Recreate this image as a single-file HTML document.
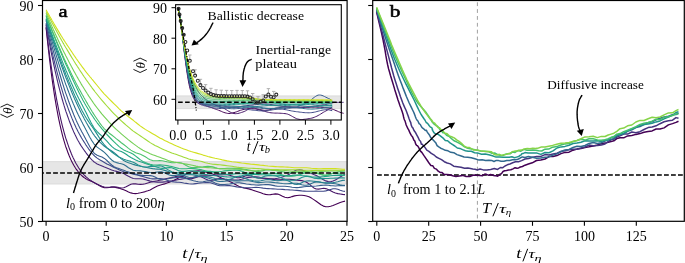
<!DOCTYPE html><html><head><meta charset="utf-8"><style>html,body{margin:0;padding:0;background:#fff;width:685px;height:263px;overflow:hidden;}svg{display:block;will-change:transform;}text{font-family:"Liberation Serif",serif;}</style></head><body>
<svg width="685" height="263" viewBox="0 0 685 263">
<rect x="42.5" y="161.6" width="304.6" height="22.4" fill="#e6e6e6"/>
<path d="M42.5,161.6H347M42.5,184.0H347" stroke="#d6d6d6" stroke-width="0.8"/>
<g fill="none" stroke-width="1.1" stroke-linejoin="round">
<path d="M46.1,27.6 46.7,33.5 47.3,39.3 47.9,44.8 48.5,50.2 49.1,55.4 49.7,60.4 50.3,65.3 50.9,70.1 51.5,74.6 52.1,79.1 52.7,83.3 53.3,87.5 53.9,91.5 54.5,95.3 55.1,99.1 55.7,102.6 56.3,106.1 56.9,109.5 57.5,112.7 58.1,115.8 58.7,118.8 59.3,121.7 59.9,124.5 60.5,127.1 61.1,129.7 61.7,132.2 62.3,134.6 62.9,136.9 63.5,139.1 64.1,141.2 64.7,143.2 65.3,145.2 65.9,147.0 66.6,148.8 67.2,150.5 67.8,152.2 68.4,153.8 69.0,155.3 69.6,156.7 70.2,158.1 70.8,159.5 71.4,160.7 72.0,161.9 72.6,163.1 73.2,164.2 73.8,165.3 74.4,166.3 75.0,167.3 75.6,168.2 76.2,169.1 76.8,169.9 77.4,170.7 78.0,171.5 78.6,172.2 79.2,172.9 79.8,173.6 80.4,174.2 81.0,174.9 81.6,175.4 82.2,176.0 82.8,176.5 83.4,177.0 84.0,177.5 84.6,177.9 85.2,178.3 85.8,178.7 86.4,179.0 87.0,179.4 87.6,179.7 88.2,180.0 88.8,180.3 89.4,180.5 90.0,180.8 90.6,181.0 91.2,181.3 91.8,181.6 92.4,181.8 93.0,182.1 93.6,182.4 94.2,182.6 94.8,182.9 97.2,184.3 99.6,185.8 102.0,187.0 104.4,187.7 106.9,187.8 109.3,187.5 111.7,187.2 114.1,187.3 116.5,187.6 118.9,188.1 121.3,188.9 123.7,189.7 126.1,190.8 128.5,191.9 130.9,192.9 133.3,193.5 135.7,193.6 138.1,193.3 140.5,192.8 142.9,192.2 145.3,191.6 147.8,190.8 150.2,189.9 152.6,188.6 155.0,187.2 157.4,186.0 159.8,185.2 162.2,184.5 164.6,183.9 167.0,183.1 169.4,182.2 171.8,181.3 174.2,180.2 176.6,178.9 179.0,177.7 181.4,176.5 183.8,175.4 186.2,174.1 188.7,172.8 191.1,171.8 193.5,171.2 195.9,171.0 198.3,170.9 200.7,171.0 203.1,171.4 205.5,171.9 207.9,172.6 210.3,173.3 212.7,174.1 215.1,175.1 217.5,176.1 219.9,177.3 222.3,178.4 224.7,179.5 227.2,180.6 229.6,181.6 232.0,182.6 234.4,184.0 236.8,185.3 239.2,186.4 241.6,187.3 244.0,188.0 246.4,188.4 248.8,188.9 251.2,189.6 253.6,190.4 256.0,191.2 258.4,192.0 260.8,192.8 263.2,193.7 265.6,194.4 268.1,194.7 270.5,194.6 272.9,194.2 275.3,193.9 277.7,194.1 280.1,195.0 282.5,196.2 284.9,197.3 287.3,197.7 289.7,197.4 292.1,196.6 294.5,195.9 296.9,195.5 299.3,195.3 301.7,195.3 304.1,195.5 306.5,196.0 309.0,196.8 311.4,198.1 313.8,199.6 316.2,201.2 318.6,203.0 321.0,204.8 323.4,206.1 325.8,206.8 328.2,206.7 330.6,206.2 333.0,205.4 335.4,204.5 337.8,203.5 340.2,202.5 342.6,201.7 345.0,201.1" stroke="#440154"/>
<path d="M46.1,26.6 46.7,31.7 47.3,36.7 47.9,41.6 48.5,46.3 49.1,51.0 49.7,55.5 50.3,59.9 50.9,64.1 51.5,68.3 52.1,72.3 52.7,76.2 53.3,80.0 53.9,83.8 54.5,87.4 55.1,90.9 55.7,94.3 56.3,97.6 56.9,100.8 57.5,103.9 58.1,106.9 58.7,109.8 59.3,112.6 59.9,115.4 60.5,118.0 61.1,120.6 61.7,123.1 62.3,125.6 62.9,127.9 63.5,130.2 64.1,132.4 64.7,134.5 65.3,136.6 65.9,138.6 66.6,140.5 67.2,142.4 67.8,144.2 68.4,145.9 69.0,147.6 69.6,149.2 70.2,150.8 70.8,152.3 71.4,153.8 72.0,155.2 72.6,156.5 73.2,157.9 73.8,159.1 74.4,160.3 75.0,161.5 75.6,162.7 76.2,163.8 76.8,164.8 77.4,165.8 78.0,166.8 78.6,167.8 79.2,168.7 79.8,169.5 80.4,170.4 81.0,171.2 81.6,172.0 82.2,172.7 82.8,173.4 83.4,174.1 84.0,174.8 84.6,175.4 85.2,176.0 85.8,176.6 86.4,177.2 87.0,177.7 87.6,178.2 88.2,178.7 88.8,179.2 89.4,179.6 90.0,180.0 90.6,180.4 91.2,180.8 91.8,181.2 92.4,181.6 93.0,181.9 93.6,182.3 94.2,182.6 94.8,183.0 97.2,184.2 99.6,185.3 102.0,186.3 104.4,187.0 106.9,187.3 109.3,187.2 111.7,186.9 114.1,186.8 116.5,187.0 118.9,187.6 121.3,188.0 123.7,187.8 126.1,186.8 128.5,185.4 130.9,184.3 133.3,183.8 135.7,183.9 138.1,184.2 140.5,184.4 142.9,184.2 145.3,183.7 147.8,183.0 150.2,182.3 152.6,181.6 155.0,181.2 157.4,180.8 159.8,180.3 162.2,179.7 164.6,179.1 167.0,178.5 169.4,178.0 171.8,177.6 174.2,177.0 176.6,176.4 179.0,176.0 181.4,176.2 183.8,176.9 186.2,177.9 188.7,178.7 191.1,178.9 193.5,178.3 195.9,177.4 198.3,176.5 200.7,175.9 203.1,175.7 205.5,175.7 207.9,175.8 210.3,175.6 212.7,175.4 215.1,175.1 217.5,174.9 219.9,174.7 222.3,174.7 224.7,174.7 227.2,174.8 229.6,175.2 232.0,176.0 234.4,176.8 236.8,177.6 239.2,177.8 241.6,177.3 244.0,176.4 246.4,175.6 248.8,175.4 251.2,175.8 253.6,176.7 256.0,177.5 258.4,178.0 260.8,178.2 263.2,178.3 265.6,178.4 268.1,178.6 270.5,179.0 272.9,179.4 275.3,179.8 277.7,179.9 280.1,179.8 282.5,179.5 284.9,179.2 287.3,179.2 289.7,179.3 292.1,179.6 294.5,179.9 296.9,180.2 299.3,180.4 301.7,180.6 304.1,181.2 306.5,182.2 309.0,183.9 311.4,186.0 313.8,187.9 316.2,189.0 318.6,189.1 321.0,188.7 323.4,188.3 325.8,188.6 328.2,189.4 330.6,190.7 333.0,192.0 335.4,193.0 337.8,193.6 340.2,194.0 342.6,194.4 345.0,194.6" stroke="#471668"/>
<path d="M46.1,24.9 46.7,28.3 47.3,31.7 47.9,35.0 48.5,38.2 49.1,41.4 49.7,44.6 50.3,47.7 50.9,50.7 51.5,53.8 52.1,56.7 52.7,59.6 53.3,62.5 53.9,65.3 54.5,68.0 55.1,70.8 55.7,73.4 56.3,76.0 56.9,78.6 57.5,81.1 58.1,83.6 58.7,86.0 59.3,88.4 59.9,90.7 60.5,93.0 61.1,95.2 61.7,97.4 62.3,99.5 62.9,101.6 63.5,103.6 64.1,105.7 64.7,107.6 65.3,109.5 65.9,111.4 66.6,113.2 67.2,115.0 67.8,116.7 68.4,118.4 69.0,120.1 69.6,121.7 70.2,123.3 70.8,124.8 71.4,126.3 72.0,127.8 72.6,129.2 73.2,130.6 73.8,132.0 74.4,133.3 75.0,134.6 75.6,135.8 76.2,137.0 76.8,138.2 77.4,139.4 78.0,140.5 78.6,141.5 79.2,142.6 79.8,143.6 80.4,144.6 81.0,145.6 81.6,146.5 82.2,147.4 82.8,148.3 83.4,149.2 84.0,150.0 84.6,150.9 85.2,151.7 85.8,152.5 86.4,153.3 87.0,154.1 87.6,154.9 88.2,155.7 88.8,156.4 89.4,157.1 90.0,157.8 90.6,158.5 91.2,159.2 91.8,159.8 92.4,160.4 93.0,160.9 93.6,161.5 94.2,162.0 94.8,162.4 97.2,164.0 99.6,165.1 102.0,166.1 104.4,167.1 106.9,168.0 109.3,168.9 111.7,169.9 114.1,170.7 116.5,171.4 118.9,172.1 121.3,172.8 123.7,173.6 126.1,174.9 128.5,176.3 130.9,177.6 133.3,178.5 135.7,178.8 138.1,178.8 140.5,178.8 142.9,179.0 145.3,179.6 147.8,180.4 150.2,181.1 152.6,181.6 155.0,181.9 157.4,182.1 159.8,182.1 162.2,182.1 164.6,181.9 167.0,181.7 169.4,181.3 171.8,180.9 174.2,180.4 176.6,180.0 179.0,179.5 181.4,179.1 183.8,178.7 186.2,178.5 188.7,178.2 191.1,177.9 193.5,177.4 195.9,176.9 198.3,176.6 200.7,176.8 203.1,177.7 205.5,178.9 207.9,180.0 210.3,180.5 212.7,180.3 215.1,179.6 217.5,178.9 219.9,178.6 222.3,178.7 224.7,179.1 227.2,179.4 229.6,179.6 232.0,179.8 234.4,180.0 236.8,180.0 239.2,179.8 241.6,179.3 244.0,178.6 246.4,177.9 248.8,177.4 251.2,177.1 253.6,176.9 256.0,176.9 258.4,177.0 260.8,177.5 263.2,178.1 265.6,178.6 268.1,178.9 270.5,178.9 272.9,178.8 275.3,178.6 277.7,178.2 280.1,177.7 282.5,176.9 284.9,176.1 287.3,175.2 289.7,173.9 292.1,172.3 294.5,170.9 296.9,170.0 299.3,169.8 301.7,170.1 304.1,170.8 306.5,171.6 309.0,172.4 311.4,173.4 313.8,174.5 316.2,175.5 318.6,176.7 321.0,178.2 323.4,179.7 325.8,180.9 328.2,181.6 330.6,181.7 333.0,181.0 335.4,179.9 337.8,178.5 340.2,177.0 342.6,175.6 345.0,174.2" stroke="#472878"/>
<path d="M46.1,23.9 46.7,26.8 47.3,29.7 47.9,32.6 48.5,35.5 49.1,38.3 49.7,41.1 50.3,43.8 50.9,46.5 51.5,49.2 52.1,51.8 52.7,54.4 53.3,57.0 53.9,59.5 54.5,62.0 55.1,64.5 55.7,66.9 56.3,69.2 56.9,71.6 57.5,73.9 58.1,76.1 58.7,78.3 59.3,80.5 59.9,82.7 60.5,84.8 61.1,86.9 61.7,88.9 62.3,90.9 62.9,92.9 63.5,94.8 64.1,96.7 64.7,98.6 65.3,100.4 65.9,102.2 66.6,104.0 67.2,105.7 67.8,107.4 68.4,109.1 69.0,110.7 69.6,112.3 70.2,113.9 70.8,115.4 71.4,116.9 72.0,118.4 72.6,119.8 73.2,121.2 73.8,122.6 74.4,124.0 75.0,125.3 75.6,126.6 76.2,127.9 76.8,129.1 77.4,130.3 78.0,131.5 78.6,132.6 79.2,133.7 79.8,134.8 80.4,135.9 81.0,136.9 81.6,138.0 82.2,139.0 82.8,140.0 83.4,140.9 84.0,141.9 84.6,142.8 85.2,143.7 85.8,144.7 86.4,145.6 87.0,146.5 87.6,147.3 88.2,148.2 88.8,149.1 89.4,149.9 90.0,150.7 90.6,151.5 91.2,152.2 91.8,153.0 92.4,153.7 93.0,154.4 93.6,155.0 94.2,155.6 94.8,156.2 97.2,158.1 99.6,159.7 102.0,161.1 104.4,162.5 106.9,163.9 109.3,165.1 111.7,166.3 114.1,167.4 116.5,168.6 118.9,169.7 121.3,170.8 123.7,171.8 126.1,172.5 128.5,173.0 130.9,173.5 133.3,174.1 135.7,174.7 138.1,175.3 140.5,175.9 142.9,176.5 145.3,177.2 147.8,177.9 150.2,178.5 152.6,178.9 155.0,178.9 157.4,178.6 159.8,178.5 162.2,178.7 164.6,179.3 167.0,180.2 169.4,181.0 171.8,181.6 174.2,181.9 176.6,182.1 179.0,182.2 181.4,182.5 183.8,183.0 186.2,183.4 188.7,183.8 191.1,184.0 193.5,183.9 195.9,183.6 198.3,183.3 200.7,183.0 203.1,182.8 205.5,182.6 207.9,182.5 210.3,182.7 212.7,183.4 215.1,184.3 217.5,185.2 219.9,185.7 222.3,185.8 224.7,185.7 227.2,185.5 229.6,185.6 232.0,186.0 234.4,186.4 236.8,186.9 239.2,187.2 241.6,187.4 244.0,187.6 246.4,187.7 248.8,187.7 251.2,187.7 253.6,187.5 256.0,187.4 258.4,187.5 260.8,187.7 263.2,188.1 265.6,188.4 268.1,188.6 270.5,188.8 272.9,188.9 275.3,189.0 277.7,189.2 280.1,189.3 282.5,189.4 284.9,189.6 287.3,189.7 289.7,189.9 292.1,190.0 294.5,190.2 296.9,190.4 299.3,190.6 301.7,190.9 304.1,191.1 306.5,191.3 309.0,191.3 311.4,191.3 313.8,191.2 316.2,191.1 318.6,191.2 321.0,191.2 323.4,191.2 325.8,190.9 328.2,190.3 330.6,189.5 333.0,188.8 335.4,188.7 337.8,189.3 340.2,190.2 342.6,191.0 345.0,191.4" stroke="#3f4888"/>
<path d="M46.1,22.8 46.7,25.2 47.3,27.6 47.9,30.0 48.5,32.3 49.1,34.7 49.7,37.0 50.3,39.4 50.9,41.7 51.5,44.0 52.1,46.3 52.7,48.6 53.3,50.8 53.9,53.1 54.5,55.3 55.1,57.5 55.7,59.7 56.3,61.9 56.9,64.0 57.5,66.1 58.1,68.3 58.7,70.3 59.3,72.4 59.9,74.5 60.5,76.5 61.1,78.5 61.7,80.5 62.3,82.4 62.9,84.3 63.5,86.2 64.1,88.1 64.7,90.0 65.3,91.8 65.9,93.6 66.6,95.4 67.2,97.1 67.8,98.9 68.4,100.6 69.0,102.3 69.6,103.9 70.2,105.5 70.8,107.1 71.4,108.7 72.0,110.3 72.6,111.8 73.2,113.3 73.8,114.8 74.4,116.2 75.0,117.6 75.6,119.0 76.2,120.4 76.8,121.7 77.4,123.0 78.0,124.2 78.6,125.5 79.2,126.7 79.8,127.9 80.4,129.1 81.0,130.2 81.6,131.4 82.2,132.5 82.8,133.6 83.4,134.7 84.0,135.8 84.6,136.9 85.2,138.0 85.8,139.2 86.4,140.3 87.0,141.4 87.6,142.6 88.2,143.7 88.8,144.8 89.4,145.9 90.0,147.0 90.6,148.0 91.2,149.0 91.8,149.9 92.4,150.8 93.0,151.6 93.6,152.4 94.2,153.1 94.8,153.7 97.2,155.3 99.6,156.2 102.0,157.1 104.4,158.4 106.9,160.5 109.3,162.9 111.7,165.0 114.1,166.7 116.5,167.8 118.9,168.6 121.3,169.4 123.7,170.3 126.1,171.2 128.5,172.0 130.9,172.8 133.3,173.5 135.7,174.1 138.1,174.7 140.5,175.1 142.9,175.4 145.3,175.5 147.8,175.5 150.2,175.6 152.6,176.0 155.0,177.0 157.4,178.2 159.8,179.2 162.2,179.7 164.6,179.5 167.0,179.0 169.4,178.4 171.8,178.0 174.2,177.7 176.6,177.4 179.0,177.3 181.4,177.4 183.8,177.9 186.2,178.6 188.7,179.4 191.1,180.0 193.5,180.7 195.9,181.3 198.3,181.8 200.7,182.0 203.1,181.7 205.5,181.2 207.9,180.8 210.3,180.9 212.7,181.7 215.1,182.9 217.5,183.9 219.9,184.5 222.3,184.6 224.7,184.5 227.2,184.2 229.6,184.0 232.0,183.6 234.4,183.2 236.8,182.8 239.2,182.8 241.6,183.1 244.0,183.5 246.4,184.0 248.8,184.3 251.2,184.6 253.6,184.8 256.0,185.0 258.4,185.1 260.8,184.9 263.2,184.7 265.6,184.5 268.1,184.6 270.5,184.9 272.9,185.4 275.3,185.9 277.7,186.2 280.1,186.3 282.5,186.3 284.9,186.3 287.3,186.5 289.7,186.8 292.1,187.2 294.5,187.5 296.9,187.6 299.3,187.4 301.7,187.1 304.1,186.8 306.5,186.5 309.0,186.4 311.4,186.3 313.8,186.2 316.2,186.0 318.6,185.7 321.0,185.4 323.4,185.2 325.8,185.1 328.2,185.3 330.6,185.6 333.0,185.8 335.4,186.0 337.8,185.8 340.2,185.6 342.6,185.5 345.0,185.6" stroke="#375b8c"/>
<path d="M46.1,20.6 46.7,22.8 47.3,24.9 47.9,27.0 48.5,29.1 49.1,31.2 49.7,33.3 50.3,35.4 50.9,37.5 51.5,39.5 52.1,41.6 52.7,43.6 53.3,45.7 53.9,47.7 54.5,49.7 55.1,51.7 55.7,53.6 56.3,55.6 56.9,57.6 57.5,59.5 58.1,61.4 58.7,63.3 59.3,65.2 59.9,67.1 60.5,68.9 61.1,70.7 61.7,72.6 62.3,74.4 62.9,76.1 63.5,77.9 64.1,79.6 64.7,81.4 65.3,83.1 65.9,84.8 66.6,86.4 67.2,88.1 67.8,89.7 68.4,91.3 69.0,92.9 69.6,94.5 70.2,96.0 70.8,97.6 71.4,99.1 72.0,100.6 72.6,102.0 73.2,103.5 73.8,104.9 74.4,106.3 75.0,107.7 75.6,109.1 76.2,110.4 76.8,111.7 77.4,113.0 78.0,114.3 78.6,115.5 79.2,116.7 79.8,117.9 80.4,119.1 81.0,120.3 81.6,121.5 82.2,122.6 82.8,123.8 83.4,124.9 84.0,126.0 84.6,127.2 85.2,128.3 85.8,129.5 86.4,130.6 87.0,131.8 87.6,132.9 88.2,134.1 88.8,135.2 89.4,136.4 90.0,137.5 90.6,138.5 91.2,139.6 91.8,140.6 92.4,141.5 93.0,142.4 93.6,143.3 94.2,144.1 94.8,144.8 97.2,147.1 99.6,148.9 102.0,150.5 104.4,152.4 106.9,154.9 109.3,157.6 111.7,160.0 114.1,161.7 116.5,162.6 118.9,163.2 121.3,163.7 123.7,164.6 126.1,166.0 128.5,167.7 130.9,169.1 133.3,170.2 135.7,170.6 138.1,170.8 140.5,170.9 142.9,171.2 145.3,171.6 147.8,172.1 150.2,172.5 152.6,172.7 155.0,172.4 157.4,172.0 159.8,171.7 162.2,171.9 164.6,172.8 167.0,173.9 169.4,175.0 171.8,175.6 174.2,175.6 176.6,175.3 179.0,175.1 181.4,175.2 183.8,175.8 186.2,176.6 188.7,177.2 191.1,177.5 193.5,177.3 195.9,176.8 198.3,176.3 200.7,176.3 203.1,176.7 205.5,177.3 207.9,178.0 210.3,178.7 212.7,179.5 215.1,180.4 217.5,181.1 219.9,181.5 222.3,181.5 224.7,181.3 227.2,181.0 229.6,180.8 232.0,180.8 234.4,180.9 236.8,180.9 239.2,180.9 241.6,180.8 244.0,180.7 246.4,180.7 248.8,180.8 251.2,181.2 253.6,181.8 256.0,182.3 258.4,182.6 260.8,182.5 263.2,182.2 265.6,182.0 268.1,182.0 270.5,182.1 272.9,182.4 275.3,182.7 277.7,182.9 280.1,183.2 282.5,183.5 284.9,183.7 287.3,183.8 289.7,183.6 292.1,183.4 294.5,183.2 296.9,183.3 299.3,183.9 301.7,184.7 304.1,185.3 306.5,185.3 309.0,184.6 311.4,183.5 313.8,182.5 316.2,181.9 318.6,182.0 321.0,182.3 323.4,182.8 325.8,183.1 328.2,183.2 330.6,183.3 333.0,183.5 335.4,183.8 337.8,184.3 340.2,184.9 342.6,185.3 345.0,185.3" stroke="#2e6e8e"/>
<path d="M46.1,20.1 46.7,21.9 47.3,23.7 47.9,25.6 48.5,27.4 49.1,29.2 49.7,31.1 50.3,32.9 50.9,34.7 51.5,36.5 52.1,38.3 52.7,40.1 53.3,41.9 53.9,43.7 54.5,45.5 55.1,47.3 55.7,49.1 56.3,50.8 56.9,52.6 57.5,54.3 58.1,56.1 58.7,57.8 59.3,59.5 59.9,61.2 60.5,62.9 61.1,64.6 61.7,66.3 62.3,67.9 62.9,69.6 63.5,71.2 64.1,72.9 64.7,74.5 65.3,76.1 65.9,77.7 66.6,79.2 67.2,80.8 67.8,82.3 68.4,83.9 69.0,85.4 69.6,86.9 70.2,88.4 70.8,89.9 71.4,91.3 72.0,92.8 72.6,94.2 73.2,95.6 73.8,97.0 74.4,98.4 75.0,99.7 75.6,101.1 76.2,102.4 76.8,103.7 77.4,105.0 78.0,106.3 78.6,107.6 79.2,108.8 79.8,110.1 80.4,111.3 81.0,112.5 81.6,113.7 82.2,114.8 82.8,116.0 83.4,117.1 84.0,118.3 84.6,119.4 85.2,120.5 85.8,121.6 86.4,122.7 87.0,123.7 87.6,124.8 88.2,125.9 88.8,126.9 89.4,127.9 90.0,128.9 90.6,129.9 91.2,130.8 91.8,131.8 92.4,132.7 93.0,133.6 93.6,134.4 94.2,135.3 94.8,136.1 97.2,139.1 99.6,141.8 102.0,144.1 104.4,146.3 106.9,148.0 109.3,149.5 111.7,151.0 114.1,152.7 116.5,154.7 118.9,156.9 121.3,158.9 123.7,160.6 126.1,161.8 128.5,162.8 130.9,163.6 133.3,164.4 135.7,165.1 138.1,165.7 140.5,166.2 142.9,166.7 145.3,167.2 147.8,167.7 150.2,168.2 152.6,168.6 155.0,168.9 157.4,169.1 159.8,169.3 162.2,169.7 164.6,170.4 167.0,171.1 169.4,171.9 171.8,172.5 174.2,173.2 176.6,173.8 179.0,174.4 181.4,174.7 183.8,174.8 186.2,174.7 188.7,174.7 191.1,174.8 193.5,175.0 195.9,175.4 198.3,175.8 200.7,176.1 203.1,176.4 205.5,176.6 207.9,176.8 210.3,177.2 212.7,177.8 215.1,178.5 217.5,179.0 219.9,179.4 222.3,179.7 224.7,179.8 227.2,179.8 229.6,179.4 232.0,178.6 234.4,177.5 236.8,176.6 239.2,176.3 241.6,176.9 244.0,177.9 246.4,178.9 248.8,179.7 251.2,180.2 253.6,180.7 256.0,181.1 258.4,181.1 260.8,180.8 263.2,180.3 265.6,179.8 268.1,179.6 270.5,179.8 272.9,180.2 275.3,180.5 277.7,180.7 280.1,180.5 282.5,180.3 284.9,180.1 287.3,180.5 289.7,181.6 292.1,183.0 294.5,184.2 296.9,184.5 299.3,183.9 301.7,182.7 304.1,181.6 306.5,181.0 309.0,180.9 311.4,181.0 313.8,181.3 316.2,181.6 318.6,181.9 321.0,182.4 323.4,182.7 325.8,182.9 328.2,182.9 330.6,182.8 333.0,182.6 335.4,182.3 337.8,181.7 340.2,181.0 342.6,180.4 345.0,180.2" stroke="#277f8e"/>
<path d="M46.1,19.0 46.7,20.8 47.3,22.5 47.9,24.3 48.5,26.0 49.1,27.8 49.7,29.5 50.3,31.3 50.9,33.0 51.5,34.7 52.1,36.5 52.7,38.2 53.3,39.9 53.9,41.7 54.5,43.4 55.1,45.1 55.7,46.8 56.3,48.5 56.9,50.2 57.5,51.8 58.1,53.5 58.7,55.2 59.3,56.8 59.9,58.5 60.5,60.1 61.1,61.7 61.7,63.3 62.3,65.0 62.9,66.5 63.5,68.1 64.1,69.7 64.7,71.3 65.3,72.8 65.9,74.4 66.6,75.9 67.2,77.4 67.8,78.9 68.4,80.4 69.0,81.9 69.6,83.3 70.2,84.8 70.8,86.2 71.4,87.6 72.0,89.1 72.6,90.4 73.2,91.8 73.8,93.2 74.4,94.5 75.0,95.9 75.6,97.2 76.2,98.5 76.8,99.8 77.4,101.1 78.0,102.4 78.6,103.7 79.2,104.9 79.8,106.1 80.4,107.4 81.0,108.6 81.6,109.7 82.2,110.9 82.8,112.0 83.4,113.1 84.0,114.2 84.6,115.3 85.2,116.3 85.8,117.3 86.4,118.3 87.0,119.2 87.6,120.1 88.2,121.0 88.8,121.9 89.4,122.8 90.0,123.6 90.6,124.5 91.2,125.3 91.8,126.2 92.4,127.0 93.0,127.9 93.6,128.8 94.2,129.6 94.8,130.6 97.2,134.4 99.6,138.3 102.0,141.9 104.4,145.0 106.9,147.6 109.3,149.9 111.7,152.0 114.1,153.8 116.5,155.5 118.9,156.9 121.3,158.1 123.7,159.2 126.1,160.0 128.5,160.7 130.9,161.4 133.3,162.2 135.7,163.5 138.1,164.9 140.5,166.1 142.9,166.7 145.3,167.0 147.8,166.9 150.2,166.6 152.6,166.5 155.0,166.2 157.4,165.9 159.8,165.8 162.2,166.3 164.6,167.5 167.0,169.1 169.4,170.6 171.8,171.7 174.2,172.3 176.6,172.6 179.0,172.8 181.4,173.1 183.8,173.5 186.2,173.8 188.7,174.0 191.1,174.1 193.5,174.1 195.9,174.0 198.3,174.0 200.7,174.1 203.1,174.2 205.5,174.5 207.9,174.8 210.3,175.0 212.7,175.3 215.1,175.6 217.5,175.8 219.9,176.1 222.3,176.4 224.7,176.7 227.2,176.9 229.6,177.0 232.0,176.9 234.4,176.8 236.8,176.6 239.2,176.3 241.6,175.8 244.0,175.2 246.4,174.8 248.8,174.9 251.2,175.7 253.6,176.8 256.0,177.8 258.4,178.1 260.8,177.7 263.2,176.8 265.6,176.0 268.1,175.6 270.5,175.6 272.9,175.7 275.3,175.9 277.7,176.4 280.1,177.3 282.5,178.4 284.9,179.3 287.3,179.9 289.7,180.2 292.1,180.3 294.5,180.1 296.9,179.7 299.3,178.8 301.7,177.6 304.1,176.7 306.5,176.3 309.0,176.6 311.4,177.3 313.8,178.1 316.2,178.5 318.6,178.6 321.0,178.6 323.4,178.6 325.8,178.5 328.2,178.5 330.6,178.3 333.0,178.2 335.4,178.1 337.8,178.0 340.2,177.9 342.6,177.9 345.0,178.0" stroke="#21918c"/>
<path d="M46.1,18.5 46.7,20.1 47.3,21.7 47.9,23.4 48.5,25.0 49.1,26.6 49.7,28.2 50.3,29.9 50.9,31.5 51.5,33.1 52.1,34.7 52.7,36.3 53.3,37.9 53.9,39.6 54.5,41.1 55.1,42.7 55.7,44.3 56.3,45.9 56.9,47.5 57.5,49.1 58.1,50.6 58.7,52.2 59.3,53.7 59.9,55.3 60.5,56.8 61.1,58.3 61.7,59.9 62.3,61.4 62.9,62.9 63.5,64.4 64.1,65.9 64.7,67.3 65.3,68.8 65.9,70.3 66.6,71.7 67.2,73.1 67.8,74.6 68.4,76.0 69.0,77.4 69.6,78.8 70.2,80.2 70.8,81.5 71.4,82.9 72.0,84.2 72.6,85.6 73.2,86.9 73.8,88.2 74.4,89.5 75.0,90.8 75.6,92.1 76.2,93.3 76.8,94.6 77.4,95.8 78.0,97.0 78.6,98.2 79.2,99.3 79.8,100.5 80.4,101.6 81.0,102.8 81.6,104.0 82.2,105.1 82.8,106.2 83.4,107.4 84.0,108.5 84.6,109.7 85.2,110.9 85.8,112.1 86.4,113.3 87.0,114.5 87.6,115.7 88.2,117.0 88.8,118.2 89.4,119.4 90.0,120.6 90.6,121.8 91.2,122.9 91.8,124.0 92.4,125.1 93.0,126.1 93.6,127.1 94.2,128.0 94.8,128.8 97.2,131.7 99.6,134.0 102.0,136.2 104.4,138.6 106.9,141.2 109.3,143.9 111.7,146.4 114.1,148.4 116.5,149.7 118.9,150.7 121.3,151.6 123.7,152.8 126.1,154.3 128.5,156.0 130.9,157.5 133.3,158.8 135.7,159.9 138.1,160.9 140.5,161.8 142.9,162.6 145.3,163.5 147.8,164.3 150.2,165.1 152.6,165.8 155.0,166.5 157.4,167.3 159.8,168.0 162.2,168.4 164.6,168.2 167.0,167.9 169.4,167.6 171.8,167.8 174.2,168.7 176.6,169.8 179.0,170.9 181.4,171.4 183.8,171.4 186.2,171.1 188.7,170.9 191.1,170.8 193.5,171.1 195.9,171.4 198.3,171.8 200.7,171.9 203.1,171.7 205.5,171.5 207.9,171.3 210.3,171.4 212.7,171.9 215.1,172.5 217.5,173.2 219.9,173.6 222.3,174.0 224.7,174.2 227.2,174.4 229.6,174.4 232.0,174.2 234.4,173.9 236.8,173.7 239.2,173.6 241.6,173.7 244.0,173.9 246.4,174.1 248.8,174.3 251.2,174.4 253.6,174.4 256.0,174.5 258.4,174.6 260.8,174.7 263.2,174.8 265.6,174.9 268.1,175.0 270.5,175.1 272.9,175.2 275.3,175.2 277.7,175.3 280.1,175.5 282.5,175.6 284.9,175.8 287.3,175.8 289.7,175.6 292.1,175.4 294.5,175.1 296.9,175.1 299.3,175.2 301.7,175.5 304.1,175.7 306.5,176.0 309.0,176.3 311.4,176.7 313.8,177.0 316.2,177.1 318.6,177.1 321.0,176.9 323.4,176.7 325.8,176.4 328.2,176.1 330.6,175.8 333.0,175.5 335.4,175.3 337.8,175.4 340.2,175.5 342.6,175.5 345.0,175.3" stroke="#20a187"/>
<path d="M46.1,16.3 46.7,17.8 47.3,19.2 47.9,20.7 48.5,22.2 49.1,23.7 49.7,25.2 50.3,26.6 50.9,28.1 51.5,29.6 52.1,31.1 52.7,32.6 53.3,34.1 53.9,35.5 54.5,37.0 55.1,38.5 55.7,40.0 56.3,41.4 56.9,42.9 57.5,44.4 58.1,45.8 58.7,47.3 59.3,48.7 59.9,50.2 60.5,51.6 61.1,53.1 61.7,54.5 62.3,55.9 62.9,57.4 63.5,58.8 64.1,60.2 64.7,61.6 65.3,63.0 65.9,64.4 66.6,65.8 67.2,67.1 67.8,68.5 68.4,69.9 69.0,71.2 69.6,72.6 70.2,73.9 70.8,75.2 71.4,76.6 72.0,77.9 72.6,79.2 73.2,80.5 73.8,81.8 74.4,83.0 75.0,84.3 75.6,85.6 76.2,86.8 76.8,88.1 77.4,89.3 78.0,90.5 78.6,91.7 79.2,92.9 79.8,94.1 80.4,95.3 81.0,96.4 81.6,97.6 82.2,98.7 82.8,99.9 83.4,101.0 84.0,102.1 84.6,103.2 85.2,104.2 85.8,105.3 86.4,106.3 87.0,107.3 87.6,108.3 88.2,109.3 88.8,110.3 89.4,111.3 90.0,112.2 90.6,113.2 91.2,114.1 91.8,115.0 92.4,115.9 93.0,116.8 93.6,117.7 94.2,118.6 94.8,119.5 97.2,122.8 99.6,125.9 102.0,128.9 104.4,131.7 106.9,134.5 109.3,137.0 111.7,139.5 114.1,141.8 116.5,144.1 118.9,146.3 121.3,148.3 123.7,149.9 126.1,151.1 128.5,152.1 130.9,153.0 133.3,154.3 135.7,156.1 138.1,158.0 140.5,159.9 142.9,161.4 145.3,162.6 147.8,163.6 150.2,164.3 152.6,164.9 155.0,165.0 157.4,165.0 159.8,164.9 162.2,165.0 164.6,165.3 167.0,165.6 169.4,166.1 171.8,166.5 174.2,167.2 176.6,167.9 179.0,168.5 181.4,168.8 183.8,168.8 186.2,168.7 188.7,168.5 191.1,168.5 193.5,168.6 195.9,168.9 198.3,169.2 200.7,169.6 203.1,170.2 205.5,170.9 207.9,171.5 210.3,171.9 212.7,172.0 215.1,171.9 217.5,171.8 219.9,171.6 222.3,171.3 224.7,170.9 227.2,170.6 229.6,170.4 232.0,170.2 234.4,170.1 236.8,170.1 239.2,170.4 241.6,171.1 244.0,172.1 246.4,172.9 248.8,173.4 251.2,173.5 253.6,173.4 256.0,173.3 258.4,173.2 260.8,173.3 263.2,173.5 265.6,173.6 268.1,173.7 270.5,173.6 272.9,173.4 275.3,173.4 277.7,173.6 280.1,174.2 282.5,175.0 284.9,175.8 287.3,176.2 289.7,176.3 292.1,176.1 294.5,175.9 296.9,175.5 299.3,174.8 301.7,174.0 304.1,173.3 306.5,172.8 309.0,172.5 311.4,172.4 313.8,172.4 316.2,172.7 318.6,173.5 321.0,174.5 323.4,175.3 325.8,175.5 328.2,175.0 330.6,174.1 333.0,173.3 335.4,173.1 337.8,173.6 340.2,174.3 342.6,175.0 345.0,175.1" stroke="#2db37d"/>
<path d="M46.1,15.2 46.7,16.7 47.3,18.2 47.9,19.7 48.5,21.2 49.1,22.7 49.7,24.2 50.3,25.7 50.9,27.2 51.5,28.7 52.1,30.2 52.7,31.6 53.3,33.1 53.9,34.5 54.5,36.0 55.1,37.4 55.7,38.9 56.3,40.3 56.9,41.8 57.5,43.2 58.1,44.6 58.7,46.0 59.3,47.4 59.9,48.8 60.5,50.2 61.1,51.6 61.7,52.9 62.3,54.3 62.9,55.7 63.5,57.0 64.1,58.4 64.7,59.7 65.3,61.0 65.9,62.3 66.6,63.7 67.2,65.0 67.8,66.3 68.4,67.5 69.0,68.8 69.6,70.1 70.2,71.3 70.8,72.6 71.4,73.8 72.0,75.1 72.6,76.3 73.2,77.5 73.8,78.7 74.4,79.9 75.0,81.1 75.6,82.3 76.2,83.4 76.8,84.6 77.4,85.7 78.0,86.8 78.6,87.9 79.2,89.1 79.8,90.1 80.4,91.2 81.0,92.3 81.6,93.4 82.2,94.5 82.8,95.5 83.4,96.6 84.0,97.7 84.6,98.7 85.2,99.8 85.8,100.8 86.4,101.9 87.0,102.9 87.6,103.9 88.2,105.0 88.8,106.0 89.4,107.0 90.0,108.0 90.6,109.0 91.2,110.0 91.8,111.0 92.4,112.0 93.0,112.9 93.6,113.9 94.2,114.8 94.8,115.7 97.2,119.3 99.6,122.8 102.0,126.0 104.4,128.8 106.9,131.2 109.3,133.2 111.7,135.0 114.1,136.9 116.5,138.9 118.9,140.8 121.3,142.7 123.7,144.5 126.1,146.4 128.5,148.4 130.9,150.1 133.3,151.6 135.7,152.7 138.1,153.5 140.5,154.3 142.9,155.4 145.3,156.8 147.8,158.4 150.2,159.7 152.6,160.6 155.0,160.8 157.4,160.7 159.8,160.6 162.2,160.7 164.6,161.2 167.0,161.8 169.4,162.3 171.8,162.7 174.2,162.7 176.6,162.5 179.0,162.5 181.4,163.0 183.8,164.1 186.2,165.5 188.7,166.7 191.1,167.5 193.5,167.6 195.9,167.5 198.3,167.3 200.7,167.1 203.1,166.9 205.5,166.6 207.9,166.4 210.3,166.5 212.7,166.9 215.1,167.6 217.5,168.2 219.9,168.6 222.3,168.6 224.7,168.5 227.2,168.3 229.6,168.3 232.0,168.3 234.4,168.4 236.8,168.5 239.2,168.6 241.6,168.9 244.0,169.2 246.4,169.6 248.8,170.0 251.2,170.5 253.6,171.1 256.0,171.5 258.4,171.5 260.8,171.2 263.2,170.6 265.6,170.0 268.1,169.8 270.5,169.9 272.9,170.1 275.3,170.5 277.7,170.8 280.1,171.3 282.5,171.8 284.9,172.3 287.3,172.6 289.7,172.6 292.1,172.5 294.5,172.3 296.9,172.3 299.3,172.3 301.7,172.3 304.1,172.3 306.5,172.4 309.0,172.5 311.4,172.7 313.8,172.8 316.2,173.1 318.6,173.7 321.0,174.4 323.4,174.9 325.8,175.0 328.2,174.6 330.6,174.0 333.0,173.3 335.4,172.7 337.8,172.1 340.2,171.5 342.6,171.1 345.0,171.0" stroke="#4cc26c"/>
<path d="M46.1,13.1 46.7,14.5 47.3,15.8 47.9,17.2 48.5,18.6 49.1,20.0 49.7,21.4 50.3,22.7 50.9,24.1 51.5,25.4 52.1,26.8 52.7,28.1 53.3,29.5 53.9,30.8 54.5,32.1 55.1,33.4 55.7,34.7 56.3,36.0 56.9,37.3 57.5,38.6 58.1,39.9 58.7,41.2 59.3,42.5 59.9,43.7 60.5,45.0 61.1,46.2 61.7,47.5 62.3,48.7 62.9,50.0 63.5,51.2 64.1,52.4 64.7,53.6 65.3,54.8 65.9,56.0 66.6,57.2 67.2,58.4 67.8,59.6 68.4,60.7 69.0,61.9 69.6,63.1 70.2,64.2 70.8,65.3 71.4,66.5 72.0,67.6 72.6,68.7 73.2,69.8 73.8,70.9 74.4,72.0 75.0,73.1 75.6,74.2 76.2,75.3 76.8,76.3 77.4,77.4 78.0,78.4 78.6,79.5 79.2,80.5 79.8,81.5 80.4,82.5 81.0,83.6 81.6,84.6 82.2,85.6 82.8,86.5 83.4,87.5 84.0,88.5 84.6,89.5 85.2,90.4 85.8,91.4 86.4,92.3 87.0,93.3 87.6,94.2 88.2,95.1 88.8,96.1 89.4,97.0 90.0,97.9 90.6,98.8 91.2,99.7 91.8,100.5 92.4,101.4 93.0,102.3 93.6,103.1 94.2,104.0 94.8,104.8 97.2,108.0 99.6,111.1 102.0,114.1 104.4,116.9 106.9,119.7 109.3,122.3 111.7,124.9 114.1,127.3 116.5,129.6 118.9,131.7 121.3,133.8 123.7,135.9 126.1,137.9 128.5,139.9 130.9,141.8 133.3,143.6 135.7,145.4 138.1,147.1 140.5,148.7 142.9,150.2 145.3,151.5 147.8,152.6 150.2,153.7 152.6,154.7 155.0,155.6 157.4,156.5 159.8,157.3 162.2,158.2 164.6,159.1 167.0,160.0 169.4,160.9 171.8,161.5 174.2,162.1 176.6,162.5 179.0,162.9 181.4,163.3 183.8,163.7 186.2,164.1 188.7,164.5 191.1,165.0 193.5,165.5 195.9,166.1 198.3,166.6 200.7,167.0 203.1,167.3 205.5,167.5 207.9,167.6 210.3,167.8 212.7,168.0 215.1,168.3 217.5,168.5 219.9,168.6 222.3,168.8 224.7,168.9 227.2,168.9 229.6,169.0 232.0,169.0 234.4,168.9 236.8,168.9 239.2,169.1 241.6,169.5 244.0,169.9 246.4,170.3 248.8,170.6 251.2,170.7 253.6,170.7 256.0,170.7 258.4,170.5 260.8,170.3 263.2,169.9 265.6,169.6 268.1,169.6 270.5,169.8 272.9,170.1 275.3,170.5 277.7,170.7 280.1,170.7 282.5,170.7 284.9,170.6 287.3,170.7 289.7,171.0 292.1,171.3 294.5,171.6 296.9,171.8 299.3,171.8 301.7,171.7 304.1,171.6 306.5,171.6 309.0,171.7 311.4,171.9 313.8,172.1 316.2,172.1 318.6,171.9 321.0,171.6 323.4,171.3 325.8,171.1 328.2,171.1 330.6,171.0 333.0,171.0 335.4,171.0 337.8,170.9 340.2,170.8 342.6,170.8 345.0,170.8" stroke="#73cf55"/>
<path d="M46.1,11.4 46.7,12.6 47.3,13.8 47.9,14.9 48.5,16.1 49.1,17.2 49.7,18.4 50.3,19.5 50.9,20.7 51.5,21.8 52.1,22.9 52.7,24.1 53.3,25.2 53.9,26.3 54.5,27.4 55.1,28.5 55.7,29.6 56.3,30.7 56.9,31.8 57.5,32.9 58.1,34.0 58.7,35.1 59.3,36.2 59.9,37.3 60.5,38.3 61.1,39.4 61.7,40.5 62.3,41.5 62.9,42.6 63.5,43.6 64.1,44.7 64.7,45.7 65.3,46.8 65.9,47.8 66.6,48.8 67.2,49.9 67.8,50.9 68.4,51.9 69.0,52.9 69.6,53.9 70.2,54.9 70.8,55.9 71.4,56.9 72.0,57.9 72.6,58.8 73.2,59.8 73.8,60.8 74.4,61.7 75.0,62.7 75.6,63.7 76.2,64.6 76.8,65.5 77.4,66.5 78.0,67.4 78.6,68.3 79.2,69.3 79.8,70.2 80.4,71.1 81.0,72.0 81.6,72.9 82.2,73.8 82.8,74.7 83.4,75.6 84.0,76.5 84.6,77.3 85.2,78.2 85.8,79.1 86.4,80.0 87.0,80.8 87.6,81.7 88.2,82.5 88.8,83.4 89.4,84.2 90.0,85.0 90.6,85.9 91.2,86.7 91.8,87.5 92.4,88.3 93.0,89.1 93.6,89.9 94.2,90.7 94.8,91.5 97.2,94.5 99.6,97.5 102.0,100.4 104.4,103.2 106.9,106.0 109.3,108.7 111.7,111.3 114.1,113.8 116.5,116.2 118.9,118.6 121.3,120.8 123.7,123.0 126.1,125.2 128.5,127.2 130.9,129.2 133.3,131.1 135.7,132.8 138.1,134.4 140.5,136.0 142.9,137.6 145.3,139.3 147.8,141.0 150.2,142.6 152.6,144.1 155.0,145.4 157.4,146.6 159.8,147.8 162.2,148.9 164.6,150.0 167.0,151.0 169.4,151.9 171.8,152.9 174.2,153.8 176.6,154.6 179.0,155.4 181.4,156.3 183.8,157.2 186.2,158.1 188.7,159.0 191.1,159.6 193.5,160.1 195.9,160.4 198.3,160.8 200.7,161.3 203.1,161.9 205.5,162.7 207.9,163.3 210.3,163.8 212.7,164.2 215.1,164.4 217.5,164.6 219.9,164.8 222.3,165.1 224.7,165.4 227.2,165.7 229.6,166.0 232.0,166.3 234.4,166.7 236.8,167.1 239.2,167.4 241.6,167.6 244.0,167.8 246.4,168.0 248.8,168.2 251.2,168.3 253.6,168.4 256.0,168.5 258.4,168.6 260.8,168.8 263.2,169.0 265.6,169.3 268.1,169.4 270.5,169.5 272.9,169.6 275.3,169.6 277.7,169.6 280.1,169.7 282.5,169.7 284.9,169.7 287.3,169.7 289.7,169.7 292.1,169.8 294.5,169.8 296.9,169.9 299.3,170.0 301.7,170.1 304.1,170.2 306.5,170.2 309.0,170.3 311.4,170.4 313.8,170.4 316.2,170.4 318.6,170.4 321.0,170.4 323.4,170.4 325.8,170.3 328.2,170.3 330.6,170.3 333.0,170.2 335.4,170.2 337.8,170.2 340.2,170.2 342.6,170.2 345.0,170.3" stroke="#a1da38"/>
<path d="M46.1,9.8 46.7,10.9 47.3,12.0 47.9,13.1 48.5,14.1 49.1,15.2 49.7,16.3 50.3,17.3 50.9,18.4 51.5,19.4 52.1,20.5 52.7,21.5 53.3,22.5 53.9,23.6 54.5,24.6 55.1,25.6 55.7,26.6 56.3,27.6 56.9,28.6 57.5,29.6 58.1,30.6 58.7,31.6 59.3,32.6 59.9,33.6 60.5,34.6 61.1,35.6 61.7,36.5 62.3,37.5 62.9,38.5 63.5,39.4 64.1,40.4 64.7,41.3 65.3,42.3 65.9,43.2 66.6,44.1 67.2,45.1 67.8,46.0 68.4,46.9 69.0,47.8 69.6,48.7 70.2,49.6 70.8,50.5 71.4,51.4 72.0,52.3 72.6,53.2 73.2,54.1 73.8,55.0 74.4,55.9 75.0,56.7 75.6,57.6 76.2,58.5 76.8,59.3 77.4,60.2 78.0,61.0 78.6,61.9 79.2,62.7 79.8,63.5 80.4,64.4 81.0,65.2 81.6,66.0 82.2,66.8 82.8,67.6 83.4,68.4 84.0,69.2 84.6,70.0 85.2,70.8 85.8,71.6 86.4,72.3 87.0,73.1 87.6,73.8 88.2,74.6 88.8,75.3 89.4,76.0 90.0,76.8 90.6,77.5 91.2,78.2 91.8,79.0 92.4,79.7 93.0,80.4 93.6,81.1 94.2,81.9 94.8,82.6 97.2,85.5 99.6,88.5 102.0,91.3 104.4,94.1 106.9,96.6 109.3,99.1 111.7,101.5 114.1,103.9 116.5,106.2 118.9,108.6 121.3,110.8 123.7,112.9 126.1,114.8 128.5,116.7 130.9,118.5 133.3,120.3 135.7,122.3 138.1,124.2 140.5,126.1 142.9,127.8 145.3,129.4 147.8,130.9 150.2,132.3 152.6,133.7 155.0,135.1 157.4,136.5 159.8,137.9 162.2,139.1 164.6,140.4 167.0,141.5 169.4,142.7 171.8,143.8 174.2,144.9 176.6,146.0 179.0,147.0 181.4,148.0 183.8,148.9 186.2,149.8 188.7,150.7 191.1,151.5 193.5,152.2 195.9,152.9 198.3,153.6 200.7,154.3 203.1,155.1 205.5,155.8 207.9,156.5 210.3,157.1 212.7,157.7 215.1,158.3 217.5,158.8 219.9,159.3 222.3,159.9 224.7,160.4 227.2,160.9 229.6,161.3 232.0,161.7 234.4,162.0 236.8,162.3 239.2,162.6 241.6,163.0 244.0,163.3 246.4,163.6 248.8,163.9 251.2,164.2 253.6,164.4 256.0,164.6 258.4,164.9 260.8,165.2 263.2,165.4 265.6,165.7 268.1,166.0 270.5,166.2 272.9,166.4 275.3,166.6 277.7,166.8 280.1,166.9 282.5,166.9 284.9,167.0 287.3,167.1 289.7,167.3 292.1,167.5 294.5,167.7 296.9,167.8 299.3,167.8 301.7,167.8 304.1,167.8 306.5,167.8 309.0,168.0 311.4,168.3 313.8,168.5 316.2,168.6 318.6,168.7 321.0,168.7 323.4,168.6 325.8,168.6 328.2,168.6 330.6,168.6 333.0,168.6 335.4,168.6 337.8,168.8 340.2,169.0 342.6,169.2 345.0,169.3" stroke="#d1e11e"/>
</g>
<line x1="42.5" x2="347" y1="172.9" y2="172.9" stroke="#000" stroke-width="1.5" stroke-dasharray="4.8,2.2" stroke-dashoffset="3.4"/>
<path d="M73.5,193.0 73.7,192.2 74.0,191.2 74.4,190.0 74.8,188.6 75.2,187.2 75.7,185.7 76.1,184.3 76.5,183.0 76.9,181.7 77.3,180.5 77.7,179.2 78.1,177.9 78.5,176.7 78.9,175.5 79.3,174.3 79.7,173.2 80.1,172.2 80.5,171.2 81.0,170.3 81.4,169.4 81.8,168.5 82.3,167.7 82.7,166.8 83.2,166.0 83.7,165.2 84.1,164.4 84.6,163.6 85.1,162.9 85.5,162.1 86.0,161.3 86.6,160.5 87.1,159.6 87.7,158.7 88.3,157.7 88.9,156.7 89.5,155.6 90.1,154.6 90.8,153.5 91.4,152.5 92.0,151.5 92.6,150.5 93.2,149.6 93.7,148.6 94.3,147.7 94.8,146.8 95.4,145.9 96.0,144.9 96.7,144.0 97.4,143.1 98.2,142.1 99.0,141.1 99.9,140.1 100.7,139.2 101.5,138.2 102.2,137.4 102.9,136.5 103.5,135.7 104.0,135.0 104.5,134.3 104.9,133.6 105.3,132.9 105.8,132.3 106.2,131.6 106.8,130.8 107.4,130.0 108.1,129.1 108.8,128.3 109.5,127.4 110.3,126.5 111.0,125.6 111.8,124.8 112.5,124.0 113.2,123.3 113.9,122.6 114.6,121.9 115.3,121.2 116.1,120.6 116.8,120.0 117.5,119.4 118.2,118.8 118.9,118.2 119.7,117.7 120.5,117.1 121.2,116.6 122.0,116.1 122.7,115.6 123.4,115.2 124.0,114.8 124.6,114.5 125.1,114.2 125.6,113.9 126.1,113.6 126.5,113.4 126.9,113.3 127.2,113.1 127.5,113.0" fill="none" stroke="#000" stroke-width="1.40" stroke-linecap="butt" stroke-linejoin="round"/><path d="M132.20,110.00 L124.90,111.10 L129.10,116.10 Z" fill="#000"/>
<text x="66.10" y="207.50" font-size="13.60" textLength="98.58" lengthAdjust="spacingAndGlyphs"><tspan font-style="italic">l</tspan><tspan font-size="9.52" dy="2.58">0</tspan><tspan dy="-2.58"> from 0 to 200</tspan><tspan font-style="italic">η</tspan></text>
<text x="58.40" y="17.20" font-size="17.00" textLength="9.06" lengthAdjust="spacingAndGlyphs"><tspan stroke="#000" stroke-width="0.55">a</tspan></text>
<rect x="42.5" y="0.5" width="304.6" height="220.8" fill="none" stroke="#000" stroke-width="1.2"/>
<line x1="38" x2="42.5" y1="221.5" y2="221.5" stroke="#000" stroke-width="1.1"/>
<text x="33.5" y="227.0" font-size="14" text-anchor="end">50</text>
<line x1="38" x2="42.5" y1="167.5" y2="167.5" stroke="#000" stroke-width="1.1"/>
<text x="33.5" y="173.0" font-size="14" text-anchor="end">60</text>
<line x1="38" x2="42.5" y1="113.5" y2="113.5" stroke="#000" stroke-width="1.1"/>
<text x="33.5" y="119.0" font-size="14" text-anchor="end">70</text>
<line x1="38" x2="42.5" y1="59.5" y2="59.5" stroke="#000" stroke-width="1.1"/>
<text x="33.5" y="65.0" font-size="14" text-anchor="end">80</text>
<line x1="38" x2="42.5" y1="5.5" y2="5.5" stroke="#000" stroke-width="1.1"/>
<text x="33.5" y="11.0" font-size="14" text-anchor="end">90</text>
<line x1="46.1" x2="46.1" y1="221.3" y2="225.8" stroke="#000" stroke-width="1.1"/>
<text x="46.1" y="241.1" font-size="14" text-anchor="middle">0</text>
<line x1="106.2" x2="106.2" y1="221.3" y2="225.8" stroke="#000" stroke-width="1.1"/>
<text x="106.2" y="241.1" font-size="14" text-anchor="middle">5</text>
<line x1="166.4" x2="166.4" y1="221.3" y2="225.8" stroke="#000" stroke-width="1.1"/>
<text x="166.4" y="241.1" font-size="14" text-anchor="middle">10</text>
<line x1="226.5" x2="226.5" y1="221.3" y2="225.8" stroke="#000" stroke-width="1.1"/>
<text x="226.5" y="241.1" font-size="14" text-anchor="middle">15</text>
<line x1="286.7" x2="286.7" y1="221.3" y2="225.8" stroke="#000" stroke-width="1.1"/>
<text x="286.7" y="241.1" font-size="14" text-anchor="middle">20</text>
<line x1="346.9" x2="346.9" y1="221.3" y2="225.8" stroke="#000" stroke-width="1.1"/>
<text x="346.9" y="241.1" font-size="14" text-anchor="middle">25</text>
<text transform="translate(182.287,258.462) scale(1.3089,1)" font-size="14.142" font-style="italic">t</text><text transform="translate(194.610,258.473) scale(1.3639,1)" font-size="13.013" font-style="italic">τ</text><text transform="translate(200.390,260.592) scale(1.6904,1)" font-size="8.472" font-style="italic">η</text><line x1="188.90" y1="261.40" x2="193.70" y2="248.80" stroke="#000" stroke-width="1.0"/>
<path d="M0.45,114.30 L7.10,117.40 L13.75,114.30" fill="none" stroke="#000" stroke-width="0.9" stroke-linejoin="miter"/><path d="M0.45,107.20 L7.10,104.10 L13.75,107.20" fill="none" stroke="#000" stroke-width="0.9" stroke-linejoin="miter"/><text transform="translate(7.10,110.75) rotate(-90)" font-size="13.50" font-style="italic" text-anchor="middle" x="0" y="4.66">θ</text>
<rect x="175.6" y="4.7" width="165.7" height="115.3" fill="#fff"/>
<rect x="175.6" y="95.9" width="165.7" height="12.7" fill="#e6e6e6"/>
<path d="M175.6,95.9H341.3M175.6,108.6H341.3" stroke="#d6d6d6" stroke-width="0.8"/>
<g fill="none" stroke-width="1.0" stroke-linejoin="round">
<path d="M177.9,8.9 178.4,9.7 178.9,11.4 179.4,13.9 179.9,16.9 180.5,20.3 181.0,24.1 181.5,28.1 182.0,32.4 182.5,36.7 183.0,41.1 183.5,45.5 184.0,49.9 184.5,54.2 185.0,58.3 185.6,62.3 186.1,66.1 186.6,69.7 187.1,73.1 187.6,76.3 188.1,79.2 188.6,82.0 189.1,84.5 189.6,86.8 190.1,88.9 190.7,90.7 191.2,92.4 191.7,94.0 192.2,95.3 192.7,96.5 193.2,97.6 193.7,98.6 194.2,99.4 194.7,100.1 195.2,100.7 195.8,101.3 196.3,101.8 196.8,102.2 197.3,102.6 197.8,102.9 198.3,103.1 198.8,103.4 199.3,103.6 199.8,103.7 200.3,103.9 200.9,104.0 201.4,104.2 201.9,104.4 202.4,104.5 202.9,104.7 203.4,104.9 203.9,105.0 204.4,105.2 204.9,105.3 205.4,105.5 206.0,105.7 206.5,105.9 207.0,106.0 207.5,106.2 208.0,106.4 208.5,106.6 209.0,106.8 209.5,106.9 210.0,107.1 210.5,107.3 211.1,107.4 211.6,107.6 212.1,107.8 212.6,108.0 213.1,108.2 213.6,108.4 214.1,108.6 214.6,108.8 215.1,109.0 215.6,109.2 216.2,109.4 216.7,109.6 217.2,109.7 217.7,109.9 218.2,110.1 218.7,110.3 220.0,110.8 221.3,111.3 222.5,111.9 223.8,112.4 225.1,112.8 226.4,113.1 227.6,113.4 228.9,113.5 230.2,113.4 231.5,113.2 232.7,112.9 234.0,112.6 235.3,112.2 236.6,111.8 237.8,111.3 239.1,110.8 240.4,110.3 241.6,110.0 242.9,109.6 244.2,109.3 245.5,109.0 246.7,108.9 248.0,108.7 249.3,108.7 250.6,108.7 251.8,108.7 253.1,108.8 254.4,108.9 255.7,109.0 256.9,109.1 258.2,109.2 259.5,109.5 260.8,109.7 262.0,110.0 263.3,110.2 264.6,110.3 265.9,110.2 267.1,110.1 268.4,109.9 269.7,109.6 271.0,109.3 272.2,109.0 273.5,108.7 274.8,108.4 276.1,108.2 277.3,108.0 278.6,107.8 279.9,107.6 281.2,107.3 282.4,107.2 283.7,107.0 285.0,106.9 286.3,106.9 287.5,106.9 288.8,106.9 290.1,106.9 291.4,106.9 292.6,107.0 293.9,107.0 295.2,107.1 296.5,107.1 297.7,107.2 299.0,107.2 300.3,107.2 301.6,107.2 302.8,107.2 304.1,107.2 305.4,107.2 306.7,107.2 307.9,107.2 309.2,107.2 310.5,107.2 311.8,107.1 313.0,107.1 314.3,107.1 315.6,107.1 316.9,107.1 318.1,107.2 319.4,107.2 320.7,107.2 322.0,107.3 323.2,107.4 324.5,107.6 325.8,107.7 327.1,107.9 328.3,108.1 329.6,108.4 330.9,108.8 332.2,109.1 333.4,109.5 334.7,110.0 336.0,110.6 337.3,111.1 338.5,111.7 339.8,112.2 341.1,112.7 342.4,113.0 343.6,113.3" stroke="#440154"/>
<path d="M177.9,8.9 178.4,10.6 178.9,12.9 179.4,15.6 179.9,18.5 180.5,21.5 181.0,24.5 181.5,27.6 182.0,30.7 182.5,33.8 183.0,36.8 183.5,39.8 184.0,42.7 184.5,45.6 185.0,48.4 185.6,51.1 186.1,53.7 186.6,56.3 187.1,58.7 187.6,61.1 188.1,63.3 188.6,65.5 189.1,67.6 189.6,69.5 190.1,71.4 190.7,73.2 191.2,75.0 191.7,76.6 192.2,78.2 192.7,79.6 193.2,81.1 193.7,82.4 194.2,83.6 194.7,84.8 195.2,86.0 195.8,87.0 196.3,88.0 196.8,89.0 197.3,89.9 197.8,90.7 198.3,91.5 198.8,92.3 199.3,93.0 199.8,93.7 200.3,94.3 200.9,94.9 201.4,95.4 201.9,96.0 202.4,96.5 202.9,96.9 203.4,97.4 203.9,97.8 204.4,98.3 204.9,98.7 205.4,99.1 206.0,99.5 206.5,99.9 207.0,100.3 207.5,100.7 208.0,101.0 208.5,101.4 209.0,101.7 209.5,102.0 210.0,102.3 210.5,102.7 211.1,102.9 211.6,103.2 212.1,103.5 212.6,103.8 213.1,104.0 213.6,104.3 214.1,104.5 214.6,104.7 215.1,104.9 215.6,105.2 216.2,105.4 216.7,105.6 217.2,105.8 217.7,106.0 218.2,106.1 218.7,106.3 220.0,106.8 221.3,107.3 222.5,107.7 223.8,108.2 225.1,109.0 226.4,109.8 227.6,110.6 228.9,111.4 230.2,112.1 231.5,112.7 232.7,113.2 234.0,113.5 235.3,113.7 236.6,113.6 237.8,113.5 239.1,113.2 240.4,112.8 241.6,112.4 242.9,112.0 244.2,111.5 245.5,110.9 246.7,110.2 248.0,109.4 249.3,108.7 250.6,108.1 251.8,107.8 253.1,107.9 254.4,108.1 255.7,108.5 256.9,109.0 258.2,109.5 259.5,110.0 260.8,110.3 262.0,110.6 263.3,111.0 264.6,111.3 265.9,111.7 267.1,112.0 268.4,112.3 269.7,112.6 271.0,112.8 272.2,112.9 273.5,113.0 274.8,113.1 276.1,113.1 277.3,113.1 278.6,113.2 279.9,113.2 281.2,113.3 282.4,113.4 283.7,113.5 285.0,113.6 286.3,113.8 287.5,114.1 288.8,114.6 290.1,115.2 291.4,115.9 292.6,116.6 293.9,117.3 295.2,118.0 296.5,118.6 297.7,119.0 299.0,119.3 300.3,119.5 301.6,119.5 302.8,119.5 304.1,119.3 305.4,119.2 306.7,119.0 307.9,118.8 309.2,118.6 310.5,118.4 311.8,118.1 313.0,117.8 314.3,117.3 315.6,116.7 316.9,116.2 318.1,115.5 319.4,114.8 320.7,114.0 322.0,113.2 323.2,112.4 324.5,111.7 325.8,111.0 327.1,110.3 328.3,109.5 329.6,108.9 330.9,108.1 332.2,107.1" stroke="#471668"/>
<path d="M177.9,8.9 178.4,9.8 178.9,11.7 179.4,14.1 179.9,17.1 180.5,20.5 181.0,24.2 181.5,28.1 182.0,32.1 182.5,36.3 183.0,40.4 183.5,44.6 184.0,48.7 184.5,52.7 185.0,56.6 185.6,60.4 186.1,64.0 186.6,67.5 187.1,70.7 187.6,73.8 188.1,76.7 188.6,79.3 189.1,81.8 189.6,84.1 190.1,86.2 190.7,88.2 191.2,89.9 191.7,91.5 192.2,93.0 192.7,94.3 193.2,95.5 193.7,96.5 194.2,97.5 194.7,98.3 195.2,99.1 195.8,99.7 196.3,100.3 196.8,100.8 197.3,101.3 197.8,101.7 198.3,102.0 198.8,102.3 199.3,102.6 199.8,102.8 200.3,103.0 200.9,103.2 201.4,103.4 201.9,103.5 202.4,103.6 202.9,103.7 203.4,103.8 203.9,103.9 204.4,104.0 204.9,104.1 205.4,104.1 206.0,104.2 206.5,104.3 207.0,104.3 207.5,104.4 208.0,104.4 208.5,104.5 209.0,104.5 209.5,104.6 210.0,104.6 210.5,104.6 211.1,104.7 211.6,104.7 212.1,104.8 212.6,104.8 213.1,104.9 213.6,104.9 214.1,105.0 214.6,105.0 215.1,105.1 215.6,105.1 216.2,105.1 216.7,105.2 217.2,105.2 217.7,105.3 218.2,105.3 218.7,105.4 220.0,105.5 221.3,105.7 222.5,105.9 223.8,106.1 225.1,106.3 226.4,106.5 227.6,106.7 228.9,106.9 230.2,107.0 231.5,107.1 232.7,107.2 234.0,107.2 235.3,107.2 236.6,107.1 237.8,107.0 239.1,106.9 240.4,106.7 241.6,106.5 242.9,106.3 244.2,106.1 245.5,105.9 246.7,105.7 248.0,105.5 249.3,105.4 250.6,105.2 251.8,105.1 253.1,104.9 254.4,104.7 255.7,104.6 256.9,104.4 258.2,104.2 259.5,104.1 260.8,104.0 262.0,103.9 263.3,103.9 264.6,103.9 265.9,103.9 267.1,104.0 268.4,104.2 269.7,104.3 271.0,104.5 272.2,104.7 273.5,105.0 274.8,105.2 276.1,105.4 277.3,105.6 278.6,105.8 279.9,106.0 281.2,106.2 282.4,106.4 283.7,106.6 285.0,106.8 286.3,106.9 287.5,107.1 288.8,107.3 290.1,107.5 291.4,107.6 292.6,107.7 293.9,107.8 295.2,107.8 296.5,107.8 297.7,107.8 299.0,107.8 300.3,107.7 301.6,107.6 302.8,107.5 304.1,107.3 305.4,107.2 306.7,107.1 307.9,106.9 309.2,106.8 310.5,106.6 311.8,106.5 313.0,106.3 314.3,106.1 315.6,106.0 316.9,105.8 318.1,105.6 319.4,105.4 320.7,105.2 322.0,105.0 323.2,104.8 324.5,104.7 325.8,104.5 327.1,104.1 328.3,103.8 329.6,103.4 330.9,103.1 332.2,102.9 333.4,102.6 334.7,102.5 336.0,102.5 337.3,102.4 338.5,102.4 339.8,102.4 341.1,102.4 342.4,102.4 343.6,102.3" stroke="#472878"/>
<path d="M177.9,8.9 178.4,9.9 178.9,11.8 179.4,14.4 179.9,17.4 180.5,20.8 181.0,24.5 181.5,28.4 182.0,32.4 182.5,36.5 183.0,40.6 183.5,44.8 184.0,48.8 184.5,52.8 185.0,56.6 185.6,60.4 186.1,63.9 186.6,67.3 187.1,70.6 187.6,73.6 188.1,76.5 188.6,79.2 189.1,81.7 189.6,84.1 190.1,86.2 190.7,88.2 191.2,90.0 191.7,91.7 192.2,93.2 192.7,94.6 193.2,95.9 193.7,97.0 194.2,98.0 194.7,98.9 195.2,99.8 195.8,100.5 196.3,101.2 196.8,101.8 197.3,102.3 197.8,102.8 198.3,103.2 198.8,103.6 199.3,103.9 199.8,104.2 200.3,104.4 200.9,104.7 201.4,104.9 201.9,105.1 202.4,105.2 202.9,105.4 203.4,105.5 203.9,105.6 204.4,105.8 204.9,105.9 205.4,106.0 206.0,106.2 206.5,106.3 207.0,106.4 207.5,106.5 208.0,106.7 208.5,106.8 209.0,106.9 209.5,107.0 210.0,107.1 210.5,107.2 211.1,107.3 211.6,107.5 212.1,107.6 212.6,107.7 213.1,107.8 213.6,107.8 214.1,107.9 214.6,108.0 215.1,108.1 215.6,108.2 216.2,108.2 216.7,108.3 217.2,108.3 217.7,108.4 218.2,108.4 218.7,108.4 220.0,108.5 221.3,108.4 222.5,108.3 223.8,108.2 225.1,108.0 226.4,107.8 227.6,107.7 228.9,107.5 230.2,107.4 231.5,107.3 232.7,107.2 234.0,107.2 235.3,107.3 236.6,107.4 237.8,107.6 239.1,107.8 240.4,108.0 241.6,108.3 242.9,108.6 244.2,108.8 245.5,109.1 246.7,109.3 248.0,109.5 249.3,109.7 250.6,109.8 251.8,110.0 253.1,110.1 254.4,110.3 255.7,110.4 256.9,110.5 258.2,110.7 259.5,110.8 260.8,110.8 262.0,110.9 263.3,110.9 264.6,110.9 265.9,110.8 267.1,110.7 268.4,110.5 269.7,110.3 271.0,110.1 272.2,109.9 273.5,109.7 274.8,109.5 276.1,109.3 277.3,109.2 278.6,109.1 279.9,109.1 281.2,109.1 282.4,109.2 283.7,109.4 285.0,109.6 286.3,109.8 287.5,110.1 288.8,110.4 290.1,110.6 291.4,110.9 292.6,111.1 293.9,111.3 295.2,111.5 296.5,111.7 297.7,111.8 299.0,112.0 300.3,112.2 301.6,112.3 302.8,112.5 304.1,112.6 305.4,112.7 306.7,112.7 307.9,112.8 309.2,112.8 310.5,112.7 311.8,112.6 313.0,112.4 314.3,112.2 315.6,111.9 316.9,111.5 318.1,111.2 319.4,110.9 320.7,110.5 322.0,110.2 323.2,110.0 324.5,109.8 325.8,109.7 327.1,109.6 328.3,109.8 329.6,110.1 330.9,110.4 332.2,110.7" stroke="#3f4888"/>
<path d="M177.9,8.9 178.4,10.0 178.9,11.9 179.4,14.5 179.9,17.6 180.5,20.9 181.0,24.5 181.5,28.3 182.0,32.2 182.5,36.2 183.0,40.1 183.5,44.1 184.0,48.0 184.5,51.8 185.0,55.5 185.6,59.1 186.1,62.6 186.6,65.8 187.1,69.0 187.6,71.9 188.1,74.7 188.6,77.3 189.1,79.8 189.6,82.1 190.1,84.2 190.7,86.2 191.2,88.0 191.7,89.6 192.2,91.2 192.7,92.6 193.2,93.9 193.7,95.0 194.2,96.1 194.7,97.0 195.2,97.9 195.8,98.7 196.3,99.4 196.8,100.0 197.3,100.6 197.8,101.1 198.3,101.5 198.8,101.9 199.3,102.3 199.8,102.6 200.3,102.9 200.9,103.2 201.4,103.4 201.9,103.6 202.4,103.8 202.9,103.9 203.4,104.1 203.9,104.2 204.4,104.4 204.9,104.5 205.4,104.7 206.0,104.8 206.5,104.9 207.0,105.0 207.5,105.2 208.0,105.3 208.5,105.4 209.0,105.5 209.5,105.6 210.0,105.7 210.5,105.8 211.1,105.9 211.6,106.0 212.1,106.1 212.6,106.2 213.1,106.3 213.6,106.4 214.1,106.5 214.6,106.6 215.1,106.7 215.6,106.8 216.2,106.8 216.7,106.9 217.2,107.0 217.7,107.1 218.2,107.2 218.7,107.2 220.0,107.4 221.3,107.6 222.5,107.7 223.8,107.9 225.1,108.1 226.4,108.2 227.6,108.4 228.9,108.5 230.2,108.6 231.5,108.7 232.7,108.7 234.0,108.8 235.3,108.7 236.6,108.6 237.8,108.5 239.1,108.4 240.4,108.2 241.6,108.0 242.9,107.8 244.2,107.6 245.5,107.5 246.7,107.4 248.0,107.3 249.3,107.2 250.6,107.2 251.8,107.3 253.1,107.4 254.4,107.5 255.7,107.6 256.9,107.7 258.2,107.9 259.5,108.0 260.8,108.1 262.0,108.3 263.3,108.4 264.6,108.4 265.9,108.5 267.1,108.6 268.4,108.6 269.7,108.7 271.0,108.7 272.2,108.8 273.5,108.8 274.8,108.8 276.1,108.8 277.3,108.8 278.6,108.8 279.9,108.8 281.2,108.7 282.4,108.6 283.7,108.6 285.0,108.5 286.3,108.4 287.5,108.3 288.8,108.2 290.1,108.1 291.4,107.9 292.6,107.7 293.9,107.5 295.2,107.2 296.5,106.9 297.7,106.5 299.0,106.1 300.3,105.6 301.6,105.1 302.8,104.6 304.1,104.1 305.4,103.5 306.7,102.9 307.9,102.3 309.2,101.5 310.5,100.5 311.8,99.4 313.0,98.3 314.3,97.3 315.6,96.4 316.9,95.6 318.1,95.1 319.4,95.0 320.7,95.1 322.0,95.4 323.2,95.9 324.5,96.5 325.8,97.2 327.1,97.8 328.3,98.4 329.6,98.9 330.9,99.9 332.2,101.0" stroke="#375b8c"/>
<path d="M177.9,8.9 178.4,10.0 178.9,12.1 179.4,14.7 179.9,17.7 180.5,21.0 181.0,24.6 181.5,28.3 182.0,32.1 182.5,35.9 183.0,39.8 183.5,43.6 184.0,47.4 184.5,51.1 185.0,54.7 185.6,58.1 186.1,61.5 186.6,64.7 187.1,67.7 187.6,70.6 188.1,73.4 188.6,76.0 189.1,78.4 189.6,80.7 190.1,82.8 190.7,84.8 191.2,86.6 191.7,88.3 192.2,89.9 192.7,91.3 193.2,92.6 193.7,93.9 194.2,95.0 194.7,96.0 195.2,96.9 195.8,97.8 196.3,98.5 196.8,99.2 197.3,99.9 197.8,100.5 198.3,101.0 198.8,101.4 199.3,101.9 199.8,102.2 200.3,102.6 200.9,102.9 201.4,103.2 201.9,103.4 202.4,103.7 202.9,103.9 203.4,104.1 203.9,104.2 204.4,104.4 204.9,104.5 205.4,104.6 206.0,104.7 206.5,104.9 207.0,104.9 207.5,105.0 208.0,105.1 208.5,105.2 209.0,105.3 209.5,105.3 210.0,105.4 210.5,105.5 211.1,105.6 211.6,105.7 212.1,105.7 212.6,105.8 213.1,105.9 213.6,105.9 214.1,106.0 214.6,106.1 215.1,106.1 215.6,106.2 216.2,106.2 216.7,106.3 217.2,106.4 217.7,106.4 218.2,106.5 218.7,106.5 220.0,106.7 221.3,106.8 222.5,106.9 223.8,107.0 225.1,107.1 226.4,107.1 227.6,107.2 228.9,107.2 230.2,107.2 231.5,107.2 232.7,107.1 234.0,107.1 235.3,106.9 236.6,106.8 237.8,106.7 239.1,106.6 240.4,106.5 241.6,106.3 242.9,106.2 244.2,106.1 245.5,106.1 246.7,106.0 248.0,106.0 249.3,106.0 250.6,106.1 251.8,106.2 253.1,106.3 254.4,106.5 255.7,106.6 256.9,106.8 258.2,107.0 259.5,107.2 260.8,107.5 262.0,107.7 263.3,107.9 264.6,108.0 265.9,108.2 267.1,108.3 268.4,108.4 269.7,108.4 271.0,108.5 272.2,108.4 273.5,108.4 274.8,108.3 276.1,108.1 277.3,108.0 278.6,107.9 279.9,107.7 281.2,107.6 282.4,107.4 283.7,107.3 285.0,107.1 286.3,107.0 287.5,107.0 288.8,106.9 290.1,106.9 291.4,107.0 292.6,107.0 293.9,107.2 295.2,107.3 296.5,107.5 297.7,107.6 299.0,107.8 300.3,108.0 301.6,108.2 302.8,108.4 304.1,108.6 305.4,108.7 306.7,108.9 307.9,109.0 309.2,109.0 310.5,109.1 311.8,109.1 313.0,109.0 314.3,109.0 315.6,108.9 316.9,108.8 318.1,108.7 319.4,108.6 320.7,108.4 322.0,108.3 323.2,108.1 324.5,108.0 325.8,107.8 327.1,107.7 328.3,107.6 329.6,107.5 330.9,107.4 332.2,107.3" stroke="#2e6e8e"/>
<path d="M177.9,8.9 178.4,10.1 178.9,12.2 179.4,14.8 179.9,17.9 180.5,21.2 181.0,24.7 181.5,28.3 182.0,32.0 182.5,35.7 183.0,39.4 183.5,43.2 184.0,46.8 184.5,50.4 185.0,53.8 185.6,57.2 186.1,60.4 186.6,63.5 187.1,66.4 187.6,69.2 188.1,71.9 188.6,74.4 189.1,76.8 189.6,79.0 190.1,81.1 190.7,83.0 191.2,84.8 191.7,86.5 192.2,88.1 192.7,89.5 193.2,90.8 193.7,92.1 194.2,93.2 194.7,94.2 195.2,95.2 195.8,96.0 196.3,96.8 196.8,97.6 197.3,98.2 197.8,98.8 198.3,99.4 198.8,99.9 199.3,100.3 199.8,100.7 200.3,101.1 200.9,101.4 201.4,101.7 201.9,102.0 202.4,102.2 202.9,102.4 203.4,102.7 203.9,102.8 204.4,103.0 204.9,103.1 205.4,103.3 206.0,103.4 206.5,103.5 207.0,103.6 207.5,103.7 208.0,103.8 208.5,103.9 209.0,103.9 209.5,104.0 210.0,104.1 210.5,104.2 211.1,104.2 211.6,104.3 212.1,104.4 212.6,104.4 213.1,104.5 213.6,104.5 214.1,104.6 214.6,104.6 215.1,104.7 215.6,104.7 216.2,104.8 216.7,104.8 217.2,104.8 217.7,104.9 218.2,104.9 218.7,105.0 220.0,105.1 221.3,105.2 222.5,105.3 223.8,105.3 225.1,105.4 226.4,105.5 227.6,105.6 228.9,105.7 230.2,105.8 231.5,105.9 232.7,106.0 234.0,106.1 235.3,106.2 236.6,106.3 237.8,106.4 239.1,106.5 240.4,106.6 241.6,106.7 242.9,106.8 244.2,106.8 245.5,106.9 246.7,106.9 248.0,106.9 249.3,106.9 250.6,106.9 251.8,106.9 253.1,106.8 254.4,106.7 255.7,106.6 256.9,106.5 258.2,106.4 259.5,106.3 260.8,106.2 262.0,106.0 263.3,105.9 264.6,105.8 265.9,105.7 267.1,105.6 268.4,105.5 269.7,105.4 271.0,105.3 272.2,105.2 273.5,105.1 274.8,105.1 276.1,105.0 277.3,104.9 278.6,104.8 279.9,104.7 281.2,104.6 282.4,104.6 283.7,104.5 285.0,104.5 286.3,104.5 287.5,104.4 288.8,104.5 290.1,104.5 291.4,104.5 292.6,104.6 293.9,104.7 295.2,104.9 296.5,105.0 297.7,105.2 299.0,105.4 300.3,105.6 301.6,105.8 302.8,105.9 304.1,106.1 305.4,106.2 306.7,106.4 307.9,106.5 309.2,106.6 310.5,106.6 311.8,106.6 313.0,106.6 314.3,106.6 315.6,106.5 316.9,106.5 318.1,106.4 319.4,106.3 320.7,106.2 322.0,106.1 323.2,106.0 324.5,105.9 325.8,105.8 327.1,105.7 328.3,105.6 329.6,105.6 330.9,105.5 332.2,105.4" stroke="#277f8e"/>
<path d="M177.9,8.9 178.4,10.2 178.9,12.4 179.4,15.0 179.9,18.1 180.5,21.3 181.0,24.8 181.5,28.3 182.0,31.9 182.5,35.6 183.0,39.2 183.5,42.8 184.0,46.3 184.5,49.7 185.0,53.1 185.6,56.3 186.1,59.4 186.6,62.4 187.1,65.2 187.6,68.0 188.1,70.5 188.6,73.0 189.1,75.3 189.6,77.4 190.1,79.5 190.7,81.4 191.2,83.2 191.7,84.8 192.2,86.4 192.7,87.8 193.2,89.2 193.7,90.4 194.2,91.5 194.7,92.6 195.2,93.6 195.8,94.4 196.3,95.3 196.8,96.0 197.3,96.7 197.8,97.3 198.3,97.9 198.8,98.4 199.3,98.9 199.8,99.3 200.3,99.7 200.9,100.1 201.4,100.4 201.9,100.7 202.4,101.0 202.9,101.2 203.4,101.5 203.9,101.7 204.4,101.8 204.9,102.0 205.4,102.2 206.0,102.3 206.5,102.4 207.0,102.5 207.5,102.6 208.0,102.7 208.5,102.8 209.0,102.9 209.5,103.0 210.0,103.1 210.5,103.1 211.1,103.2 211.6,103.3 212.1,103.3 212.6,103.4 213.1,103.5 213.6,103.5 214.1,103.6 214.6,103.6 215.1,103.7 215.6,103.7 216.2,103.8 216.7,103.8 217.2,103.9 217.7,103.9 218.2,103.9 218.7,104.0 220.0,104.1 221.3,104.2 222.5,104.2 223.8,104.3 225.1,104.4 226.4,104.4 227.6,104.5 228.9,104.5 230.2,104.5 231.5,104.5 232.7,104.5 234.0,104.4 235.3,104.4 236.6,104.4 237.8,104.3 239.1,104.3 240.4,104.2 241.6,104.1 242.9,104.1 244.2,104.0 245.5,104.0 246.7,103.9 248.0,103.9 249.3,103.9 250.6,103.8 251.8,103.8 253.1,103.8 254.4,103.9 255.7,103.9 256.9,104.0 258.2,104.0 259.5,104.1 260.8,104.2 262.0,104.3 263.3,104.5 264.6,104.6 265.9,104.7 267.1,104.8 268.4,104.9 269.7,105.1 271.0,105.2 272.2,105.3 273.5,105.4 274.8,105.5 276.1,105.6 277.3,105.6 278.6,105.7 279.9,105.7 281.2,105.7 282.4,105.7 283.7,105.7 285.0,105.6 286.3,105.5 287.5,105.5 288.8,105.4 290.1,105.3 291.4,105.2 292.6,105.1 293.9,105.0 295.2,104.9 296.5,104.8 297.7,104.7 299.0,104.7 300.3,104.6 301.6,104.5 302.8,104.5 304.1,104.5 305.4,104.5 306.7,104.5 307.9,104.5 309.2,104.6 310.5,104.6 311.8,104.7 313.0,104.7 314.3,104.8 315.6,104.9 316.9,105.0 318.1,105.1 319.4,105.2 320.7,105.3 322.0,105.4 323.2,105.4 324.5,105.5 325.8,105.6 327.1,105.7 328.3,105.8 329.6,105.9 330.9,105.9 332.2,106.0" stroke="#21918c"/>
<path d="M177.9,8.9 178.4,10.3 178.9,12.5 179.4,15.2 179.9,18.3 180.5,21.5 181.0,24.9 181.5,28.4 182.0,31.9 182.5,35.4 183.0,38.9 183.5,42.4 184.0,45.8 184.5,49.1 185.0,52.3 185.6,55.5 186.1,58.4 186.6,61.3 187.1,64.1 187.6,66.7 188.1,69.2 188.6,71.6 189.1,73.8 189.6,75.9 190.1,77.9 190.7,79.7 191.2,81.5 191.7,83.1 192.2,84.7 192.7,86.1 193.2,87.4 193.7,88.6 194.2,89.8 194.7,90.8 195.2,91.8 195.8,92.7 196.3,93.6 196.8,94.3 197.3,95.0 197.8,95.7 198.3,96.3 198.8,96.8 199.3,97.3 199.8,97.8 200.3,98.2 200.9,98.6 201.4,98.9 201.9,99.3 202.4,99.5 202.9,99.8 203.4,100.0 203.9,100.3 204.4,100.5 204.9,100.7 205.4,100.8 206.0,101.0 206.5,101.1 207.0,101.2 207.5,101.4 208.0,101.5 208.5,101.6 209.0,101.6 209.5,101.7 210.0,101.8 210.5,101.9 211.1,101.9 211.6,102.0 212.1,102.0 212.6,102.1 213.1,102.1 213.6,102.2 214.1,102.2 214.6,102.3 215.1,102.3 215.6,102.3 216.2,102.4 216.7,102.4 217.2,102.5 217.7,102.5 218.2,102.5 218.7,102.6 220.0,102.7 221.3,102.8 222.5,102.8 223.8,102.9 225.1,103.0 226.4,103.1 227.6,103.2 228.9,103.2 230.2,103.3 231.5,103.4 232.7,103.4 234.0,103.5 235.3,103.5 236.6,103.5 237.8,103.6 239.1,103.6 240.4,103.6 241.6,103.5 242.9,103.5 244.2,103.5 245.5,103.4 246.7,103.4 248.0,103.3 249.3,103.2 250.6,103.2 251.8,103.1 253.1,103.0 254.4,102.9 255.7,102.9 256.9,102.8 258.2,102.8 259.5,102.7 260.8,102.7 262.0,102.7 263.3,102.6 264.6,102.6 265.9,102.7 267.1,102.7 268.4,102.8 269.7,102.8 271.0,102.9 272.2,103.0 273.5,103.1 274.8,103.2 276.1,103.3 277.3,103.4 278.6,103.5 279.9,103.6 281.2,103.7 282.4,103.8 283.7,103.9 285.0,104.0 286.3,104.1 287.5,104.1 288.8,104.2 290.1,104.2 291.4,104.2 292.6,104.2 293.9,104.2 295.2,104.1 296.5,104.1 297.7,104.0 299.0,104.0 300.3,103.9 301.6,103.8 302.8,103.8 304.1,103.7 305.4,103.6 306.7,103.5 307.9,103.5 309.2,103.4 310.5,103.4 311.8,103.3 313.0,103.3 314.3,103.3 315.6,103.3 316.9,103.3 318.1,103.3 319.4,103.4 320.7,103.4 322.0,103.5 323.2,103.6 324.5,103.7 325.8,103.8 327.1,103.8 328.3,103.9 329.6,104.0 330.9,104.1 332.2,104.1" stroke="#20a187"/>
<path d="M177.9,8.9 178.4,10.4 178.9,12.7 179.4,15.5 179.9,18.5 180.5,21.7 181.0,25.1 181.5,28.5 182.0,31.9 182.5,35.3 183.0,38.8 183.5,42.1 184.0,45.4 184.5,48.6 185.0,51.7 185.6,54.7 186.1,57.6 186.6,60.3 187.1,63.0 187.6,65.5 188.1,67.9 188.6,70.2 189.1,72.4 189.6,74.4 190.1,76.4 190.7,78.2 191.2,79.9 191.7,81.5 192.2,83.0 192.7,84.4 193.2,85.7 193.7,87.0 194.2,88.1 194.7,89.2 195.2,90.2 195.8,91.1 196.3,91.9 196.8,92.7 197.3,93.4 197.8,94.1 198.3,94.7 198.8,95.3 199.3,95.8 199.8,96.3 200.3,96.7 200.9,97.1 201.4,97.5 201.9,97.9 202.4,98.2 202.9,98.5 203.4,98.7 203.9,99.0 204.4,99.2 204.9,99.4 205.4,99.6 206.0,99.7 206.5,99.9 207.0,100.0 207.5,100.1 208.0,100.3 208.5,100.4 209.0,100.5 209.5,100.6 210.0,100.6 210.5,100.7 211.1,100.8 211.6,100.8 212.1,100.9 212.6,101.0 213.1,101.0 213.6,101.0 214.1,101.1 214.6,101.1 215.1,101.2 215.6,101.2 216.2,101.2 216.7,101.3 217.2,101.3 217.7,101.3 218.2,101.3 218.7,101.3 220.0,101.4 221.3,101.5 222.5,101.5 223.8,101.5 225.1,101.6 226.4,101.6 227.6,101.7 228.9,101.7 230.2,101.7 231.5,101.8 232.7,101.8 234.0,101.9 235.3,101.9 236.6,101.9 237.8,102.0 239.1,102.0 240.4,102.0 241.6,102.1 242.9,102.1 244.2,102.1 245.5,102.2 246.7,102.2 248.0,102.2 249.3,102.2 250.6,102.3 251.8,102.3 253.1,102.3 254.4,102.3 255.7,102.4 256.9,102.4 258.2,102.4 259.5,102.4 260.8,102.4 262.0,102.5 263.3,102.5 264.6,102.5 265.9,102.5 267.1,102.5 268.4,102.5 269.7,102.5 271.0,102.6 272.2,102.6 273.5,102.6 274.8,102.6 276.1,102.6 277.3,102.6 278.6,102.6 279.9,102.6 281.2,102.6 282.4,102.6 283.7,102.6 285.0,102.6 286.3,102.6 287.5,102.6 288.8,102.6 290.1,102.6 291.4,102.6 292.6,102.6 293.9,102.6 295.2,102.6 296.5,102.6 297.7,102.6 299.0,102.6 300.3,102.6 301.6,102.6 302.8,102.6 304.1,102.6 305.4,102.6 306.7,102.6 307.9,102.6 309.2,102.5 310.5,102.5 311.8,102.5 313.0,102.5 314.3,102.5 315.6,102.5 316.9,102.5 318.1,102.5 319.4,102.4 320.7,102.4 322.0,102.4 323.2,102.4 324.5,102.4 325.8,102.4 327.1,102.4 328.3,102.4 329.6,102.4 330.9,102.4 332.2,102.3" stroke="#2db37d"/>
<path d="M177.9,8.9 178.4,10.5 178.9,12.9 179.4,15.7 179.9,18.7 180.5,21.9 181.0,25.2 181.5,28.6 182.0,31.9 182.5,35.3 183.0,38.6 183.5,41.8 184.0,45.0 184.5,48.0 185.0,51.0 185.6,53.9 186.1,56.7 186.6,59.3 187.1,61.9 187.6,64.3 188.1,66.6 188.6,68.8 189.1,70.9 189.6,72.9 190.1,74.7 190.7,76.5 191.2,78.2 191.7,79.7 192.2,81.2 192.7,82.5 193.2,83.8 193.7,85.0 194.2,86.2 194.7,87.2 195.2,88.2 195.8,89.1 196.3,89.9 196.8,90.7 197.3,91.4 197.8,92.1 198.3,92.7 198.8,93.3 199.3,93.8 199.8,94.3 200.3,94.8 200.9,95.2 201.4,95.6 201.9,95.9 202.4,96.2 202.9,96.5 203.4,96.8 203.9,97.1 204.4,97.3 204.9,97.5 205.4,97.7 206.0,97.9 206.5,98.1 207.0,98.2 207.5,98.4 208.0,98.5 208.5,98.6 209.0,98.7 209.5,98.8 210.0,98.9 210.5,99.0 211.1,99.1 211.6,99.1 212.1,99.2 212.6,99.3 213.1,99.3 213.6,99.4 214.1,99.4 214.6,99.5 215.1,99.5 215.6,99.6 216.2,99.6 216.7,99.6 217.2,99.7 217.7,99.7 218.2,99.7 218.7,99.7 220.0,99.8 221.3,99.9 222.5,99.9 223.8,100.0 225.1,100.0 226.4,100.1 227.6,100.1 228.9,100.2 230.2,100.2 231.5,100.2 232.7,100.3 234.0,100.3 235.3,100.3 236.6,100.4 237.8,100.4 239.1,100.4 240.4,100.5 241.6,100.5 242.9,100.5 244.2,100.6 245.5,100.6 246.7,100.6 248.0,100.7 249.3,100.7 250.6,100.7 251.8,100.8 253.1,100.8 254.4,100.8 255.7,100.9 256.9,100.9 258.2,100.9 259.5,101.0 260.8,101.0 262.0,101.0 263.3,101.1 264.6,101.1 265.9,101.1 267.1,101.2 268.4,101.2 269.7,101.2 271.0,101.3 272.2,101.3 273.5,101.3 274.8,101.3 276.1,101.4 277.3,101.4 278.6,101.4 279.9,101.4 281.2,101.4 282.4,101.5 283.7,101.5 285.0,101.5 286.3,101.5 287.5,101.5 288.8,101.5 290.1,101.5 291.4,101.5 292.6,101.6 293.9,101.6 295.2,101.6 296.5,101.6 297.7,101.6 299.0,101.6 300.3,101.6 301.6,101.6 302.8,101.6 304.1,101.6 305.4,101.6 306.7,101.6 307.9,101.6 309.2,101.6 310.5,101.7 311.8,101.7 313.0,101.7 314.3,101.7 315.6,101.7 316.9,101.7 318.1,101.7 319.4,101.7 320.7,101.7 322.0,101.7 323.2,101.7 324.5,101.7 325.8,101.7 327.1,101.7 328.3,101.7 329.6,101.7 330.9,101.7 332.2,101.7" stroke="#4cc26c"/>
<path d="M177.9,8.9 178.4,10.6 178.9,13.1 179.4,15.9 179.9,18.9 180.5,22.1 181.0,25.3 181.5,28.6 182.0,31.8 182.5,35.1 183.0,38.2 183.5,41.4 184.0,44.4 184.5,47.4 185.0,50.2 185.6,53.0 186.1,55.6 186.6,58.2 187.1,60.6 187.6,63.0 188.1,65.2 188.6,67.3 189.1,69.3 189.6,71.2 190.1,73.0 190.7,74.7 191.2,76.3 191.7,77.9 192.2,79.3 192.7,80.6 193.2,81.9 193.7,83.1 194.2,84.2 194.7,85.2 195.2,86.2 195.8,87.1 196.3,87.9 196.8,88.7 197.3,89.5 197.8,90.2 198.3,90.8 198.8,91.4 199.3,91.9 199.8,92.4 200.3,92.9 200.9,93.4 201.4,93.8 201.9,94.1 202.4,94.5 202.9,94.8 203.4,95.1 203.9,95.4 204.4,95.6 204.9,95.9 205.4,96.1 206.0,96.3 206.5,96.5 207.0,96.6 207.5,96.8 208.0,96.9 208.5,97.1 209.0,97.2 209.5,97.3 210.0,97.4 210.5,97.5 211.1,97.6 211.6,97.6 212.1,97.7 212.6,97.8 213.1,97.9 213.6,97.9 214.1,98.0 214.6,98.0 215.1,98.1 215.6,98.1 216.2,98.1 216.7,98.2 217.2,98.2 217.7,98.2 218.2,98.3 218.7,98.3 220.0,98.4 221.3,98.4 222.5,98.5 223.8,98.5 225.1,98.5 226.4,98.6 227.6,98.6 228.9,98.7 230.2,98.7 231.5,98.7 232.7,98.8 234.0,98.8 235.3,98.9 236.6,98.9 237.8,98.9 239.1,99.0 240.4,99.0 241.6,99.1 242.9,99.1 244.2,99.2 245.5,99.2 246.7,99.3 248.0,99.3 249.3,99.4 250.6,99.4 251.8,99.5 253.1,99.5 254.4,99.6 255.7,99.7 256.9,99.7 258.2,99.8 259.5,99.8 260.8,99.9 262.0,100.0 263.3,100.0 264.6,100.1 265.9,100.2 267.1,100.2 268.4,100.3 269.7,100.4 271.0,100.4 272.2,100.5 273.5,100.6 274.8,100.6 276.1,100.7 277.3,100.7 278.6,100.8 279.9,100.8 281.2,100.8 282.4,100.8 283.7,100.9 285.0,100.9 286.3,100.9 287.5,100.9 288.8,100.9 290.1,100.9 291.4,100.9 292.6,100.9 293.9,101.0 295.2,101.0 296.5,101.0 297.7,101.0 299.0,101.0 300.3,101.0 301.6,101.0 302.8,101.0 304.1,101.0 305.4,101.0 306.7,101.0 307.9,101.0 309.2,101.0 310.5,101.0 311.8,101.0 313.0,101.0 314.3,101.1 315.6,101.1 316.9,101.1 318.1,101.1 319.4,101.1 320.7,101.1 322.0,101.1 323.2,101.1 324.5,101.1 325.8,101.1 327.1,101.1 328.3,101.1 329.6,101.1 330.9,101.1 332.2,101.1" stroke="#73cf55"/>
<path d="M177.9,8.9 178.4,10.7 178.9,13.3 179.4,16.2 179.9,19.2 180.5,22.3 181.0,25.5 181.5,28.7 182.0,31.9 182.5,35.1 183.0,38.2 183.5,41.2 184.0,44.1 184.5,47.0 185.0,49.7 185.6,52.4 186.1,54.9 186.6,57.4 187.1,59.7 187.6,62.0 188.1,64.1 188.6,66.1 189.1,68.1 189.6,69.9 190.1,71.7 190.7,73.3 191.2,74.9 191.7,76.4 192.2,77.8 192.7,79.1 193.2,80.3 193.7,81.5 194.2,82.6 194.7,83.6 195.2,84.6 195.8,85.5 196.3,86.3 196.8,87.1 197.3,87.8 197.8,88.5 198.3,89.2 198.8,89.8 199.3,90.3 199.8,90.9 200.3,91.4 200.9,91.8 201.4,92.2 201.9,92.6 202.4,93.0 202.9,93.3 203.4,93.6 203.9,93.9 204.4,94.2 204.9,94.5 205.4,94.7 206.0,94.9 206.5,95.1 207.0,95.3 207.5,95.5 208.0,95.6 208.5,95.8 209.0,95.9 209.5,96.1 210.0,96.2 210.5,96.3 211.1,96.4 211.6,96.5 212.1,96.6 212.6,96.6 213.1,96.7 213.6,96.8 214.1,96.9 214.6,96.9 215.1,97.0 215.6,97.0 216.2,97.1 216.7,97.1 217.2,97.2 217.7,97.2 218.2,97.2 218.7,97.3 220.0,97.4 221.3,97.4 222.5,97.5 223.8,97.5 225.1,97.6 226.4,97.6 227.6,97.7 228.9,97.7 230.2,97.8 231.5,97.8 232.7,97.8 234.0,97.9 235.3,97.9 236.6,98.0 237.8,98.0 239.1,98.1 240.4,98.1 241.6,98.2 242.9,98.2 244.2,98.3 245.5,98.3 246.7,98.4 248.0,98.4 249.3,98.5 250.6,98.5 251.8,98.6 253.1,98.6 254.4,98.7 255.7,98.8 256.9,99.0 258.2,99.2 259.5,99.3 260.8,99.5 262.0,99.7 263.3,99.8 264.6,99.9 265.9,100.0 267.1,100.0 268.4,100.0 269.7,100.1 271.0,100.1 272.2,100.1 273.5,100.1 274.8,100.1 276.1,100.2 277.3,100.2 278.6,100.2 279.9,100.2 281.2,100.2 282.4,100.2 283.7,100.2 285.0,100.2 286.3,100.2 287.5,100.2 288.8,100.3 290.1,100.3 291.4,100.3 292.6,100.3 293.9,100.3 295.2,100.3 296.5,100.3 297.7,100.3 299.0,100.3 300.3,100.3 301.6,100.3 302.8,100.3 304.1,100.3 305.4,100.3 306.7,100.3 307.9,100.4 309.2,100.4 310.5,100.4 311.8,100.4 313.0,100.4 314.3,100.4 315.6,100.4 316.9,100.4 318.1,100.4 319.4,100.4 320.7,100.4 322.0,100.4 323.2,100.4 324.5,100.4 325.8,100.4 327.1,100.5 328.3,100.5 329.6,100.5 330.9,100.5 332.2,100.5" stroke="#a1da38"/>
<path d="M177.9,8.9 178.4,10.9 178.9,13.5 179.4,16.4 179.9,19.5 180.5,22.6 181.0,25.8 181.5,28.9 182.0,32.0 182.5,35.1 183.0,38.1 183.5,41.0 184.0,43.9 184.5,46.6 185.0,49.3 185.6,51.8 186.1,54.3 186.6,56.7 187.1,58.9 187.6,61.1 188.1,63.2 188.6,65.1 189.1,67.0 189.6,68.8 190.1,70.5 190.7,72.1 191.2,73.6 191.7,75.1 192.2,76.4 192.7,77.7 193.2,78.9 193.7,80.1 194.2,81.2 194.7,82.2 195.2,83.1 195.8,84.0 196.3,84.9 196.8,85.7 197.3,86.4 197.8,87.1 198.3,87.8 198.8,88.4 199.3,89.0 199.8,89.5 200.3,90.0 200.9,90.5 201.4,90.9 201.9,91.4 202.4,91.7 202.9,92.1 203.4,92.4 203.9,92.8 204.4,93.0 204.9,93.3 205.4,93.6 206.0,93.8 206.5,94.0 207.0,94.2 207.5,94.4 208.0,94.6 208.5,94.8 209.0,94.9 209.5,95.0 210.0,95.2 210.5,95.3 211.1,95.4 211.6,95.5 212.1,95.6 212.6,95.7 213.1,95.8 213.6,95.9 214.1,95.9 214.6,96.0 215.1,96.1 215.6,96.1 216.2,96.2 216.7,96.2 217.2,96.3 217.7,96.3 218.2,96.3 218.7,96.4 220.0,96.5 221.3,96.5 222.5,96.6 223.8,96.6 225.1,96.7 226.4,96.7 227.6,96.7 228.9,96.8 230.2,96.8 231.5,96.8 232.7,96.9 234.0,96.9 235.3,96.9 236.6,97.0 237.8,97.0 239.1,97.0 240.4,97.1 241.6,97.1 242.9,97.2 244.2,97.2 245.5,97.3 246.7,97.3 248.0,97.4 249.3,97.5 250.6,97.6 251.8,97.9 253.1,98.1 254.4,98.4 255.7,98.7 256.9,98.9 258.2,99.1 259.5,99.3 260.8,99.4 262.0,99.4 263.3,99.4 264.6,99.5 265.9,99.5 267.1,99.5 268.4,99.5 269.7,99.5 271.0,99.5 272.2,99.5 273.5,99.6 274.8,99.6 276.1,99.6 277.3,99.6 278.6,99.6 279.9,99.6 281.2,99.6 282.4,99.6 283.7,99.6 285.0,99.6 286.3,99.6 287.5,99.6 288.8,99.6 290.1,99.6 291.4,99.7 292.6,99.7 293.9,99.7 295.2,99.7 296.5,99.7 297.7,99.7 299.0,99.7 300.3,99.7 301.6,99.7 302.8,99.7 304.1,99.7 305.4,99.7 306.7,99.7 307.9,99.7 309.2,99.8 310.5,99.8 311.8,99.8 313.0,99.8 314.3,99.8 315.6,99.8 316.9,99.8 318.1,99.8 319.4,99.8 320.7,99.8 322.0,99.8 323.2,99.8 324.5,99.8 325.8,99.8 327.1,99.8 328.3,99.8 329.6,99.9 330.9,99.9 332.2,99.9" stroke="#d1e11e"/>
</g>
<line x1="178.1" x2="341.3" y1="102.3" y2="102.3" stroke="#000" stroke-width="1.5" stroke-dasharray="4.6,2.4"/>
<path d="M189.8,60.8V55.0M188.1,55.0H191.5" stroke="#aaa" stroke-width="0.9" fill="none"/>
<path d="M195.1,75.6V69.8M193.4,69.8H196.8" stroke="#aaa" stroke-width="0.9" fill="none"/>
<path d="M200.4,85.1V79.3M198.7,79.3H202.1" stroke="#aaa" stroke-width="0.9" fill="none"/>
<path d="M205.6,90.4V84.6M203.9,84.6H207.3" stroke="#aaa" stroke-width="0.9" fill="none"/>
<path d="M210.9,94.1V88.3M209.2,88.3H212.6" stroke="#aaa" stroke-width="0.9" fill="none"/>
<path d="M216.1,95.6V89.8M214.4,89.8H217.8" stroke="#aaa" stroke-width="0.9" fill="none"/>
<path d="M221.3,96.0V90.2M219.6,90.2H223.0" stroke="#aaa" stroke-width="0.9" fill="none"/>
<path d="M226.6,96.2V90.4M224.9,90.4H228.3" stroke="#aaa" stroke-width="0.9" fill="none"/>
<path d="M231.8,96.3V90.5M230.1,90.5H233.5" stroke="#aaa" stroke-width="0.9" fill="none"/>
<path d="M237.0,96.2V90.4M235.3,90.4H238.7" stroke="#aaa" stroke-width="0.9" fill="none"/>
<path d="M242.3,96.3V90.5M240.6,90.5H244.0" stroke="#aaa" stroke-width="0.9" fill="none"/>
<path d="M247.5,96.6V90.8M245.8,90.8H249.2" stroke="#aaa" stroke-width="0.9" fill="none"/>
<path d="M252.7,99.3V93.5M251.0,93.5H254.4" stroke="#aaa" stroke-width="0.9" fill="none"/>
<path d="M258.0,102.4V96.6M256.3,96.6H259.7" stroke="#aaa" stroke-width="0.9" fill="none"/>
<path d="M263.2,100.5V94.7M261.5,94.7H264.9" stroke="#aaa" stroke-width="0.9" fill="none"/>
<path d="M268.4,94.4V88.6M266.7,88.6H270.1" stroke="#aaa" stroke-width="0.9" fill="none"/>
<path d="M273.7,97.2V91.4M272.0,91.4H275.4" stroke="#aaa" stroke-width="0.9" fill="none"/>
<circle cx="178.6" cy="8.8" r="1.5" fill="#333" stroke="#2a2a2a" stroke-width="1.05"/>
<circle cx="179.5" cy="14.5" r="1.5" fill="#333" stroke="#2a2a2a" stroke-width="1.05"/>
<circle cx="180.7" cy="21.0" r="1.5" fill="#333" stroke="#2a2a2a" stroke-width="1.05"/>
<circle cx="182.2" cy="28.0" r="1.5" fill="#333" stroke="#2a2a2a" stroke-width="1.05"/>
<circle cx="183.7" cy="34.8" r="1.5" fill="#333" stroke="#2a2a2a" stroke-width="1.05"/>
<circle cx="185.4" cy="42.0" r="1.5" fill="none" stroke="#2a2a2a" stroke-width="1.05"/>
<circle cx="187.2" cy="50.5" r="1.5" fill="none" stroke="#2a2a2a" stroke-width="1.05"/>
<circle cx="189.8" cy="60.8" r="1.5" fill="none" stroke="#2a2a2a" stroke-width="1.05"/>
<circle cx="193.0" cy="71.2" r="1.5" fill="none" stroke="#2a2a2a" stroke-width="1.05"/>
<circle cx="195.1" cy="75.6" r="1.5" fill="none" stroke="#2a2a2a" stroke-width="1.05"/>
<circle cx="197.8" cy="80.7" r="1.5" fill="none" stroke="#2a2a2a" stroke-width="1.05"/>
<circle cx="200.4" cy="85.1" r="1.5" fill="none" stroke="#2a2a2a" stroke-width="1.05"/>
<circle cx="203.0" cy="88.0" r="1.5" fill="none" stroke="#2a2a2a" stroke-width="1.05"/>
<circle cx="205.6" cy="90.4" r="1.5" fill="none" stroke="#2a2a2a" stroke-width="1.05"/>
<circle cx="208.3" cy="92.6" r="1.5" fill="none" stroke="#2a2a2a" stroke-width="1.05"/>
<circle cx="210.9" cy="94.1" r="1.5" fill="none" stroke="#2a2a2a" stroke-width="1.05"/>
<circle cx="213.5" cy="95.1" r="1.5" fill="none" stroke="#2a2a2a" stroke-width="1.05"/>
<circle cx="216.1" cy="95.6" r="1.5" fill="none" stroke="#2a2a2a" stroke-width="1.05"/>
<circle cx="218.7" cy="95.9" r="1.5" fill="none" stroke="#2a2a2a" stroke-width="1.05"/>
<circle cx="221.3" cy="96.0" r="1.5" fill="none" stroke="#2a2a2a" stroke-width="1.05"/>
<circle cx="224.0" cy="96.1" r="1.5" fill="none" stroke="#2a2a2a" stroke-width="1.05"/>
<circle cx="226.6" cy="96.2" r="1.5" fill="none" stroke="#2a2a2a" stroke-width="1.05"/>
<circle cx="229.2" cy="96.2" r="1.5" fill="none" stroke="#2a2a2a" stroke-width="1.05"/>
<circle cx="231.8" cy="96.3" r="1.5" fill="none" stroke="#2a2a2a" stroke-width="1.05"/>
<circle cx="234.4" cy="96.2" r="1.5" fill="none" stroke="#2a2a2a" stroke-width="1.05"/>
<circle cx="237.0" cy="96.2" r="1.5" fill="none" stroke="#2a2a2a" stroke-width="1.05"/>
<circle cx="239.7" cy="96.2" r="1.5" fill="none" stroke="#2a2a2a" stroke-width="1.05"/>
<circle cx="242.3" cy="96.3" r="1.5" fill="none" stroke="#2a2a2a" stroke-width="1.05"/>
<circle cx="244.9" cy="96.3" r="1.5" fill="none" stroke="#2a2a2a" stroke-width="1.05"/>
<circle cx="247.5" cy="96.6" r="1.5" fill="none" stroke="#2a2a2a" stroke-width="1.05"/>
<circle cx="250.1" cy="97.5" r="1.5" fill="none" stroke="#2a2a2a" stroke-width="1.05"/>
<circle cx="252.7" cy="99.3" r="1.5" fill="none" stroke="#2a2a2a" stroke-width="1.05"/>
<circle cx="255.3" cy="102.3" r="1.5" fill="none" stroke="#2a2a2a" stroke-width="1.05"/>
<circle cx="258.0" cy="102.4" r="1.5" fill="none" stroke="#2a2a2a" stroke-width="1.05"/>
<circle cx="260.6" cy="101.6" r="1.5" fill="none" stroke="#2a2a2a" stroke-width="1.05"/>
<circle cx="263.2" cy="100.5" r="1.5" fill="none" stroke="#2a2a2a" stroke-width="1.05"/>
<circle cx="265.8" cy="96.4" r="1.5" fill="none" stroke="#2a2a2a" stroke-width="1.05"/>
<circle cx="268.4" cy="94.4" r="1.5" fill="none" stroke="#2a2a2a" stroke-width="1.05"/>
<circle cx="271.0" cy="96.7" r="1.5" fill="none" stroke="#2a2a2a" stroke-width="1.05"/>
<circle cx="273.7" cy="97.2" r="1.5" fill="none" stroke="#2a2a2a" stroke-width="1.05"/>
<circle cx="276.3" cy="94.6" r="1.5" fill="none" stroke="#2a2a2a" stroke-width="1.05"/>
<path d="M177.9,7.7 178.3,10.0 178.9,13.1 179.6,16.8 180.3,20.9 181.1,25.2 182.0,29.6 182.8,33.9 183.5,38.0 184.2,42.0 185.0,46.2 185.7,50.4 186.4,54.6 187.2,58.8 187.9,62.8 188.6,66.6 189.2,70.0 189.8,73.1 190.4,75.8 190.9,78.4 191.5,80.7 192.0,83.0 192.5,85.2 192.9,87.6 193.4,90.0 193.8,92.7 194.3,95.6 194.7,98.6 195.1,101.5 195.5,104.3 195.8,106.8 196.1,108.9 196.3,110.5" fill="none" stroke="#000" stroke-width="1.3" stroke-dasharray="3.2,1.6,1,1.6"/>
<rect x="175.6" y="4.7" width="165.7" height="115.3" fill="none" stroke="#000" stroke-width="1.1"/>
<line x1="171.5" x2="175.6" y1="99.3" y2="99.3" stroke="#000" stroke-width="1"/>
<text x="167" y="104.8" font-size="14" text-anchor="end">60</text>
<line x1="171.5" x2="175.6" y1="68.8" y2="68.8" stroke="#000" stroke-width="1"/>
<text x="167" y="74.3" font-size="14" text-anchor="end">70</text>
<line x1="171.5" x2="175.6" y1="38.2" y2="38.2" stroke="#000" stroke-width="1"/>
<text x="167" y="43.7" font-size="14" text-anchor="end">80</text>
<line x1="171.5" x2="175.6" y1="7.7" y2="7.7" stroke="#000" stroke-width="1"/>
<text x="167" y="13.2" font-size="14" text-anchor="end">90</text>
<line x1="177.9" x2="177.9" y1="120" y2="124.7" stroke="#000" stroke-width="1"/>
<text x="177.9" y="140.1" font-size="14" text-anchor="middle">0.0</text>
<line x1="203.4" x2="203.4" y1="120" y2="124.7" stroke="#000" stroke-width="1"/>
<text x="203.4" y="140.1" font-size="14" text-anchor="middle">0.5</text>
<line x1="228.9" x2="228.9" y1="120" y2="124.7" stroke="#000" stroke-width="1"/>
<text x="228.9" y="140.1" font-size="14" text-anchor="middle">1.0</text>
<line x1="254.4" x2="254.4" y1="120" y2="124.7" stroke="#000" stroke-width="1"/>
<text x="254.4" y="140.1" font-size="14" text-anchor="middle">1.5</text>
<line x1="279.9" x2="279.9" y1="120" y2="124.7" stroke="#000" stroke-width="1"/>
<text x="279.9" y="140.1" font-size="14" text-anchor="middle">2.0</text>
<line x1="305.4" x2="305.4" y1="120" y2="124.7" stroke="#000" stroke-width="1"/>
<text x="305.4" y="140.1" font-size="14" text-anchor="middle">2.5</text>
<line x1="330.9" x2="330.9" y1="120" y2="124.7" stroke="#000" stroke-width="1"/>
<text x="330.9" y="140.1" font-size="14" text-anchor="middle">3.0</text>
<text transform="translate(246.812,150.767) scale(0.9833,1)" font-size="13.618" font-style="italic">t</text><text transform="translate(258.928,150.777) scale(1.3451,1)" font-size="12.587" font-style="italic">τ</text><text transform="translate(264.705,152.703) scale(1.0688,1)" font-size="9.949" font-style="italic">b</text><line x1="252.90" y1="154.10" x2="258.00" y2="141.10" stroke="#000" stroke-width="1.0"/>
<path d="M133.45,69.40 L140.10,72.50 L146.75,69.40" fill="none" stroke="#000" stroke-width="0.9" stroke-linejoin="miter"/><path d="M133.45,61.20 L140.10,58.10 L146.75,61.20" fill="none" stroke="#000" stroke-width="0.9" stroke-linejoin="miter"/><text transform="translate(140.10,65.30) rotate(-90)" font-size="13.00" font-style="italic" text-anchor="middle" x="0" y="4.48">θ</text>
<text x="207.50" y="20.10" font-size="13.00" textLength="96.58" lengthAdjust="spacingAndGlyphs"><tspan >Ballistic decrease</tspan></text>
<path d="M213.0,22.6 212.8,23.1 212.4,23.8 212.0,24.5 211.6,25.4 211.1,26.3 210.7,27.3 210.2,28.2 209.7,29.0 209.2,29.8 208.7,30.6 208.2,31.3 207.7,32.1 207.2,32.8 206.6,33.6 206.1,34.3 205.5,35.0 204.9,35.7 204.3,36.4 203.7,37.0 203.0,37.7 202.4,38.3 201.8,38.9 201.2,39.4 200.6,39.9 200.0,40.4 199.5,40.8 198.9,41.2 198.4,41.6 197.9,41.9 197.5,42.2 197.1,42.4 196.8,42.6" fill="none" stroke="#000" stroke-width="1.40" stroke-linecap="butt" stroke-linejoin="round"/><path d="M191.50,45.40 L193.90,39.70 L198.80,44.20 Z" fill="#000"/>
<text x="255.50" y="53.50" font-size="13.00" textLength="75.60" lengthAdjust="spacingAndGlyphs"><tspan >Inertial-range</tspan></text>
<text x="255.30" y="68.10" font-size="13.00" textLength="41.64" lengthAdjust="spacingAndGlyphs"><tspan >plateau</tspan></text>
<path d="M251.6,59.2 251.3,59.4 250.9,59.6 250.4,59.8 249.8,60.1 249.2,60.4 248.7,60.7 248.2,61.1 247.7,61.5 247.3,62.0 246.9,62.5 246.6,63.0 246.2,63.6 245.9,64.2 245.6,64.9 245.3,65.6 245.0,66.3 244.7,67.1 244.5,67.9 244.2,68.7 244.0,69.6 243.8,70.5 243.6,71.4 243.4,72.3 243.3,73.2 243.2,74.2 243.1,75.3 243.0,76.4 243.0,77.5 243.0,78.6 242.9,79.6 242.9,80.4 242.9,81.0" fill="none" stroke="#000" stroke-width="1.40" stroke-linecap="butt" stroke-linejoin="round"/><path d="M242.50,86.90 L239.50,80.30 L246.30,80.30 Z" fill="#000"/>
<line x1="477.4" x2="477.4" y1="2.3" y2="221.3" stroke="#a0a0a0" stroke-width="1" stroke-dasharray="3.8,3.05"/>
<line x1="377" x2="684" y1="175.1" y2="175.1" stroke="#000" stroke-width="1.5" stroke-dasharray="4.8,2.2"/>
<g fill="none" stroke-width="1.5" stroke-linejoin="round">
<path d="M376.6,12.0 377.5,15.9 378.8,21.3 380.3,27.7 381.8,34.1 383.1,40.0 384.1,45.3 385.1,50.6 385.9,55.7 386.8,60.6 387.7,65.0 388.6,68.9 389.6,72.3 390.5,75.5 391.5,78.7 392.5,82.0 393.6,85.6 394.7,89.4 395.9,93.2 397.0,96.8 398.0,100.0 399.0,102.8 399.9,105.4 400.8,107.8 401.6,110.0 402.3,112.0 402.9,113.9 403.3,115.5 403.6,117.0 404.0,118.5 404.5,120.0 405.0,120.9 405.6,122.9 406.2,125.0 406.9,126.5 407.8,128.4 408.8,130.1 410.1,133.2 411.3,135.4 412.6,137.0 413.8,139.9 414.8,141.0 415.7,144.0 416.6,145.4 417.6,145.8 418.8,147.7 420.3,150.9 422.0,152.6 423.8,155.4 425.7,158.2 427.5,160.8 429.2,163.3 430.9,165.5 432.7,165.7 434.4,168.4 436.3,169.1 438.2,171.2 440.1,172.4 442.1,172.6 444.3,174.6 446.8,174.5 449.6,174.8 452.7,175.8 455.9,176.5 459.3,176.1 462.6,175.4 466.1,176.6 469.8,176.5 473.5,175.1 476.9,175.3 480.0,175.4 482.6,175.7 484.9,174.1 486.9,174.6 488.8,175.2 490.6,174.5 492.2,175.0 493.7,175.6 495.0,175.7 496.3,175.7 497.6,176.2 498.9,175.4 500.2,174.0 501.5,173.7 503.0,171.5 504.6,170.8 506.5,170.6 508.6,170.1 510.8,169.8 513.0,168.9 515.1,167.7 517.0,168.2 518.6,167.9 520.3,167.0 522.4,166.5 525.0,165.2 528.4,164.0 532.3,162.8 536.5,160.5 540.8,159.9 545.0,159.0 549.0,156.6 553.0,156.6 557.0,155.6 561.0,153.6 565.0,152.4 569.0,152.2 573.0,150.2 577.0,149.1 581.0,148.5 585.0,147.5 589.1,146.8 593.2,145.9 597.4,144.9 601.3,143.7 605.0,143.1 608.2,142.2 611.1,141.6 613.9,140.8 616.8,138.6 620.0,137.8 623.7,137.8 627.6,135.9 631.8,135.5 635.9,134.4 640.0,133.6 644.0,132.3 648.1,131.6 652.1,130.9 656.1,129.0 660.0,129.0 664.1,127.9 668.4,124.9 672.5,123.6 676.0,122.4 678.5,121.2" stroke="#440154"/>
<path d="M376.6,11.0 377.7,15.1 379.2,20.9 381.0,27.7 382.7,34.3 384.2,40.0 385.4,44.6 386.5,48.6 387.5,52.4 388.5,56.1 389.5,60.0 390.6,64.0 391.6,68.0 392.7,72.0 393.8,76.0 395.0,80.0 396.3,84.1 397.7,88.4 399.1,92.6 400.4,96.5 401.7,100.0 402.8,103.0 403.9,105.6 404.9,107.9 405.9,110.0 406.7,112.0 407.4,113.9 408.0,115.5 408.5,117.0 409.0,118.5 409.6,120.0 410.2,121.7 410.7,122.5 411.3,125.3 412.0,126.9 412.9,127.9 414.0,130.5 415.3,132.2 416.7,134.8 418.1,137.4 419.4,140.3 420.5,141.3 421.4,144.3 422.3,144.2 423.4,145.9 424.9,147.3 426.8,150.2 428.9,151.3 431.3,153.3 433.8,154.8 436.3,157.0 438.9,158.3 441.5,159.7 444.3,161.7 447.2,163.0 450.3,163.9 453.7,166.2 457.3,166.7 461.0,167.3 464.6,168.3 467.8,167.9 470.5,168.4 472.8,168.9 475.0,169.3 477.3,170.0 480.0,169.0 483.3,169.9 486.9,170.0 490.7,169.5 494.3,168.6 497.6,169.4 500.4,167.5 502.8,167.7 505.0,166.0 507.3,164.8 509.9,164.0 512.7,162.8 515.5,161.8 518.5,161.7 521.6,160.6 525.0,159.0 528.7,158.5 532.6,157.3 536.8,156.5 540.9,156.4 545.0,154.6 549.0,154.9 553.0,153.9 557.0,153.3 561.0,151.4 565.0,150.8 569.0,149.7 573.0,149.2 577.0,149.2 581.0,148.0 585.0,147.0 589.1,145.1 593.2,145.7 597.4,145.4 601.3,144.9 605.0,144.0 608.2,141.5 611.1,139.8 613.9,139.0 616.8,137.1 620.0,135.9 623.7,134.0 627.6,134.1 631.8,132.0 635.9,132.8 640.0,131.7 644.0,129.5 648.1,127.6 652.1,127.0 656.1,125.8 660.0,123.7 664.1,121.8 668.4,120.7 672.5,120.2 676.0,117.6 678.5,118.3" stroke="#45347f"/>
<path d="M376.6,10.0 378.0,14.2 379.9,20.3 382.1,27.3 384.3,34.2 386.2,40.0 387.7,44.6 389.1,48.7 390.4,52.5 391.7,56.2 393.0,60.0 394.4,64.0 395.7,68.0 397.1,72.0 398.5,76.0 400.0,80.0 401.6,84.1 403.2,88.4 404.9,92.6 406.4,96.5 407.9,100.0 409.2,103.0 410.5,105.6 411.6,107.9 412.6,110.0 413.6,112.0 414.4,113.9 415.0,115.5 415.5,117.0 416.1,118.5 416.9,120.0 417.9,121.0 419.1,123.6 420.3,124.5 421.6,127.0 422.7,128.2 423.7,128.8 424.6,129.9 425.4,130.4 426.3,130.2 427.3,132.1 428.3,133.6 429.4,134.9 430.5,137.3 431.7,138.8 433.0,139.8 434.3,141.2 435.7,142.7 437.1,145.6 438.8,146.9 440.7,148.2 442.9,149.1 445.3,150.3 448.0,150.8 450.8,152.3 453.8,152.7 457.0,154.6 460.5,155.8 464.1,157.0 467.7,157.2 471.3,157.8 474.9,158.8 478.5,159.9 482.2,159.8 485.6,160.5 488.8,160.2 491.6,160.4 494.0,161.5 496.3,160.4 498.6,160.6 501.1,161.3 503.9,161.2 506.8,160.5 509.7,160.4 512.5,159.7 515.1,159.7 517.2,159.6 518.9,158.8 520.5,157.8 522.4,156.9 525.0,157.4 528.4,156.6 532.3,157.3 536.5,158.2 540.8,158.1 545.0,157.3 549.0,156.9 553.0,155.1 557.0,153.9 561.0,151.5 565.0,149.9 569.0,149.4 573.0,147.5 577.0,146.3 581.0,146.4 585.0,145.5 589.1,143.4 593.2,142.5 597.4,143.4 601.3,142.7 605.0,141.0 608.2,139.7 611.1,139.4 613.9,138.6 616.8,135.9 620.0,134.9 623.7,133.7 627.6,131.3 631.8,129.9 635.9,127.6 640.0,126.6 644.0,124.5 648.1,122.7 652.1,121.7 656.1,119.8 660.0,118.3 664.1,117.0 668.4,116.2 672.5,114.8 676.0,114.5 678.5,113.1" stroke="#30698e"/>
<path d="M376.6,9.0 378.2,13.4 380.4,19.7 382.9,26.9 385.5,34.0 387.6,40.0 389.3,44.7 390.7,48.8 392.1,52.5 393.5,56.2 395.0,60.0 396.7,64.0 398.4,68.0 400.2,72.0 402.1,76.0 404.0,80.0 406.0,84.1 408.2,88.4 410.3,92.6 412.3,96.5 414.1,100.0 415.5,103.0 416.7,105.6 417.8,107.9 418.8,110.0 419.8,112.0 420.8,113.9 421.8,115.5 422.8,117.0 423.8,118.5 424.9,120.0 426.2,122.5 427.6,123.3 429.1,125.5 430.4,127.1 431.5,127.5 432.1,128.2 432.3,129.9 432.5,129.6 432.9,130.8 433.9,132.7 435.6,134.0 437.8,134.2 440.3,135.9 442.8,137.8 445.3,140.6 447.6,140.8 450.0,142.9 452.3,144.4 454.8,146.0 457.3,148.0 459.9,148.4 462.6,149.6 465.4,150.7 468.2,151.3 471.3,151.3 474.6,152.7 478.0,153.1 481.6,154.3 485.2,153.9 488.8,154.8 492.4,155.8 496.1,157.1 499.7,157.1 503.2,157.3 506.4,157.2 509.3,157.2 511.9,156.8 514.4,157.7 516.6,157.1 518.6,156.6 520.0,155.4 520.9,155.1 521.7,153.8 522.9,153.6 525.0,152.6 528.1,153.0 532.0,152.9 536.3,152.9 540.8,154.4 545.0,152.5 549.0,152.7 553.0,150.9 557.0,148.0 561.0,146.9 565.0,146.4 569.0,145.2 573.0,143.5 577.0,143.0 581.0,142.2 585.0,140.8 589.1,141.0 593.2,141.1 597.4,140.8 601.3,141.4 605.0,140.3 608.2,140.0 611.1,137.6 613.9,137.0 616.8,134.9 620.0,134.5 623.7,133.3 627.6,130.9 631.8,129.1 635.9,127.4 640.0,125.2 644.0,124.4 648.1,123.9 652.1,123.2 656.1,121.9 660.0,120.9 664.1,118.8 668.4,117.1 672.5,115.1 676.0,112.5 678.5,111.7" stroke="#20938b"/>
<path d="M376.6,8.0 378.3,12.5 380.8,19.1 383.6,26.5 386.4,33.9 388.8,40.0 390.6,44.8 392.2,48.9 393.7,52.6 395.2,56.2 396.8,60.0 398.6,64.0 400.4,68.0 402.2,72.0 404.1,76.0 406.0,80.0 407.9,84.1 409.9,88.4 411.9,92.6 413.9,96.5 415.9,100.0 417.9,103.0 420.0,105.6 422.1,107.9 424.0,110.0 425.7,112.0 427.0,113.9 428.1,115.5 429.0,117.0 429.9,118.5 431.1,120.0 432.6,122.5 434.2,124.1 435.9,125.5 437.5,126.2 438.8,127.7 439.7,129.4 440.3,130.2 440.8,129.4 441.5,130.4 442.7,132.7 444.4,132.7 446.6,135.2 448.9,136.3 451.5,138.6 454.0,140.7 456.5,141.8 459.0,143.2 461.6,144.7 464.5,146.8 467.8,148.2 471.6,149.0 476.0,150.0 480.6,151.0 484.9,151.3 488.8,151.8 492.1,153.3 495.0,153.1 497.7,154.7 500.3,155.4 502.9,155.6 505.4,154.2 507.8,153.8 510.1,153.8 512.5,151.9 515.1,152.4 517.9,150.5 520.9,151.2 523.9,149.4 527.0,150.3 530.0,150.3 532.9,149.9 535.8,150.2 538.6,150.8 541.7,151.0 545.0,149.2 548.7,149.1 552.6,147.2 556.8,146.6 560.9,145.0 565.0,143.9 569.0,143.6 573.0,141.5 577.0,140.5 581.0,139.3 585.0,140.1 589.1,138.8 593.2,138.7 597.4,139.9 601.3,140.2 605.0,139.7 608.2,138.7 611.1,137.5 613.9,136.5 616.8,134.2 620.0,133.6 623.7,131.7 627.6,130.2 631.8,128.5 635.9,126.7 640.0,124.5 644.0,123.2 648.1,122.5 652.1,121.2 656.1,119.2 660.0,119.8 664.1,117.3 668.4,116.7 672.5,115.5 676.0,113.9 678.5,114.1" stroke="#44bf70"/>
<path d="M376.6,7.3 378.2,11.3 380.5,17.0 383.2,23.5 385.7,29.8 387.8,35.0 389.3,38.8 390.6,42.0 391.6,44.7 392.7,47.3 393.8,50.0 395.0,52.8 396.2,55.6 397.4,58.3 398.6,61.1 399.9,64.0 401.2,67.0 402.5,70.1 403.9,73.2 405.4,76.5 407.0,80.0 408.9,83.9 411.1,88.1 413.3,92.4 415.4,96.4 417.4,100.0 419.1,103.0 420.7,105.6 422.2,107.9 423.6,110.0 425.0,112.0 426.3,113.9 427.6,115.5 428.8,117.0 430.1,118.5 431.5,120.0 433.0,122.3 434.7,123.1 436.4,125.5 438.0,127.4 439.5,127.7 440.7,129.6 441.6,129.8 442.5,130.4 443.5,131.6 445.0,133.5 446.9,133.6 449.2,135.9 451.6,136.8 454.2,137.9 456.7,139.9 459.1,141.4 461.5,143.3 463.9,145.8 466.6,147.4 469.6,147.5 473.2,149.9 477.2,149.9 481.4,151.1 485.4,151.4 488.8,151.5 491.5,151.8 493.6,154.0 495.5,154.9 497.3,154.9 499.3,154.3 501.5,155.4 503.7,154.8 505.9,154.4 508.0,153.8 509.9,153.3 511.4,152.4 512.7,151.5 513.8,151.4 515.2,151.0 516.9,151.1 519.1,150.3 521.6,150.1 524.3,149.0 527.2,148.6 530.0,148.8 532.8,148.3 535.6,148.5 538.5,148.0 541.6,146.9 545.0,147.1 548.7,146.2 552.6,145.4 556.8,144.2 560.9,143.3 565.0,143.0 569.0,142.5 573.0,141.5 577.0,140.5 581.0,138.8 585.0,136.9 589.1,136.8 593.2,136.3 597.4,137.6 601.3,136.4 605.0,136.5 608.2,135.0 611.1,134.1 613.9,133.2 616.8,131.3 620.0,128.7 623.7,128.1 627.6,125.8 631.8,125.0 635.9,122.0 640.0,120.4 644.0,120.5 648.1,118.7 652.1,117.2 656.1,117.7 660.0,117.0 664.1,114.9 668.4,112.9 672.5,112.8 676.0,110.6 678.5,109.5" stroke="#87d449"/>
</g>
<rect x="372.7" y="0.5" width="311.6" height="220.8" fill="none" stroke="#000" stroke-width="1.2"/>
<line x1="368.2" x2="372.7" y1="221.5" y2="221.5" stroke="#000" stroke-width="1.1"/>
<line x1="368.2" x2="372.7" y1="167.5" y2="167.5" stroke="#000" stroke-width="1.1"/>
<line x1="368.2" x2="372.7" y1="113.5" y2="113.5" stroke="#000" stroke-width="1.1"/>
<line x1="368.2" x2="372.7" y1="59.5" y2="59.5" stroke="#000" stroke-width="1.1"/>
<line x1="368.2" x2="372.7" y1="5.5" y2="5.5" stroke="#000" stroke-width="1.1"/>
<line x1="376.8" x2="376.8" y1="221.3" y2="225.8" stroke="#000" stroke-width="1.1"/>
<text x="376.8" y="241.1" font-size="14" text-anchor="middle">0</text>
<line x1="428.7" x2="428.7" y1="221.3" y2="225.8" stroke="#000" stroke-width="1.1"/>
<text x="428.7" y="241.1" font-size="14" text-anchor="middle">25</text>
<line x1="480.6" x2="480.6" y1="221.3" y2="225.8" stroke="#000" stroke-width="1.1"/>
<text x="480.6" y="241.1" font-size="14" text-anchor="middle">50</text>
<line x1="532.5" x2="532.5" y1="221.3" y2="225.8" stroke="#000" stroke-width="1.1"/>
<text x="532.5" y="241.1" font-size="14" text-anchor="middle">75</text>
<line x1="584.4" x2="584.4" y1="221.3" y2="225.8" stroke="#000" stroke-width="1.1"/>
<text x="584.4" y="241.1" font-size="14" text-anchor="middle">100</text>
<line x1="636.3" x2="636.3" y1="221.3" y2="225.8" stroke="#000" stroke-width="1.1"/>
<text x="636.3" y="241.1" font-size="14" text-anchor="middle">125</text>
<text transform="translate(516.287,258.462) scale(1.3089,1)" font-size="14.142" font-style="italic">t</text><text transform="translate(528.610,258.473) scale(1.3639,1)" font-size="13.013" font-style="italic">τ</text><text transform="translate(534.390,260.592) scale(1.6904,1)" font-size="8.472" font-style="italic">η</text><line x1="522.90" y1="261.40" x2="527.70" y2="248.80" stroke="#000" stroke-width="1.0"/>
<text x="389.70" y="17.10" font-size="17.30" textLength="10.65" lengthAdjust="spacingAndGlyphs"><tspan stroke="#000" stroke-width="0.55">b</tspan></text>
<text x="547.30" y="88.85" font-size="13.00" textLength="96.54" lengthAdjust="spacingAndGlyphs"><tspan >Diffusive increase</tspan></text>
<path d="M582.1,95.1 581.9,95.5 581.5,96.0 581.1,96.6 580.7,97.3 580.3,98.1 579.8,98.9 579.4,99.8 579.1,100.7 578.8,101.6 578.5,102.7 578.3,103.8 578.0,104.9 577.8,106.1 577.6,107.2 577.4,108.4 577.3,109.5 577.2,110.6 577.1,111.7 577.1,112.8 577.1,113.9 577.1,114.9 577.2,116.0 577.2,117.1 577.3,118.2 577.4,119.3 577.5,120.5 577.7,121.7 577.9,122.9 578.0,124.0 578.2,125.1 578.4,126.1 578.6,126.9 578.8,127.6 579.0,128.2 579.2,128.8 579.4,129.2 579.6,129.6 579.7,130.0 579.9,130.3 580.0,130.5" fill="none" stroke="#000" stroke-width="1.40" stroke-linecap="butt" stroke-linejoin="round"/><path d="M581.70,136.00 L576.80,130.70 L583.80,129.00 Z" fill="#000"/>
<text x="387.00" y="194.10" font-size="13.60" textLength="98.06" lengthAdjust="spacingAndGlyphs"><tspan font-style="italic">l</tspan><tspan font-size="9.52" dy="2.58">0</tspan><tspan dy="-2.58">  from 1 to 2.1</tspan><tspan font-style="italic">L</tspan></text>
<path d="M398.4,183.4 398.6,182.8 399.0,181.9 399.3,180.9 399.8,179.8 400.2,178.7 400.7,177.5 401.2,176.3 401.7,175.2 402.2,174.2 402.7,173.1 403.3,172.1 403.8,171.0 404.4,170.0 405.1,168.9 405.7,167.8 406.4,166.7 407.1,165.5 407.9,164.3 408.8,163.1 409.6,161.8 410.5,160.6 411.4,159.4 412.2,158.2 413.1,157.1 413.9,156.1 414.7,155.1 415.5,154.1 416.3,153.2 417.1,152.3 417.9,151.4 418.8,150.5 419.8,149.5 420.9,148.5 422.0,147.4 423.3,146.3 424.6,145.2 425.8,144.1 427.1,143.0 428.2,142.0 429.3,141.0 430.3,140.1 431.2,139.2 432.0,138.3 432.8,137.5 433.6,136.6 434.4,135.9 435.2,135.1 436.0,134.4 436.9,133.7 437.7,133.1 438.6,132.5 439.5,131.9 440.4,131.4 441.2,130.8 442.1,130.3 443.0,129.8 443.9,129.3 444.9,128.7 445.9,128.1 446.9,127.6 447.9,127.1 448.7,126.7 449.5,126.3 450.0,126.0" fill="none" stroke="#000" stroke-width="1.40" stroke-linecap="butt" stroke-linejoin="round"/><path d="M455.20,122.50 L448.00,123.40 L451.50,128.90 Z" fill="#000"/>
<text transform="translate(481.953,213.100) scale(1.1776,1)" font-size="13.592" font-style="italic">T</text><text transform="translate(498.968,212.977) scale(1.5620,1)" font-size="12.587" font-style="italic">τ</text><text transform="translate(505.809,215.323) scale(1.3187,1)" font-size="8.326" font-style="italic">η</text><line x1="492.90" y1="216.30" x2="498.30" y2="203.00" stroke="#000" stroke-width="1.0"/>
</svg></body></html>
